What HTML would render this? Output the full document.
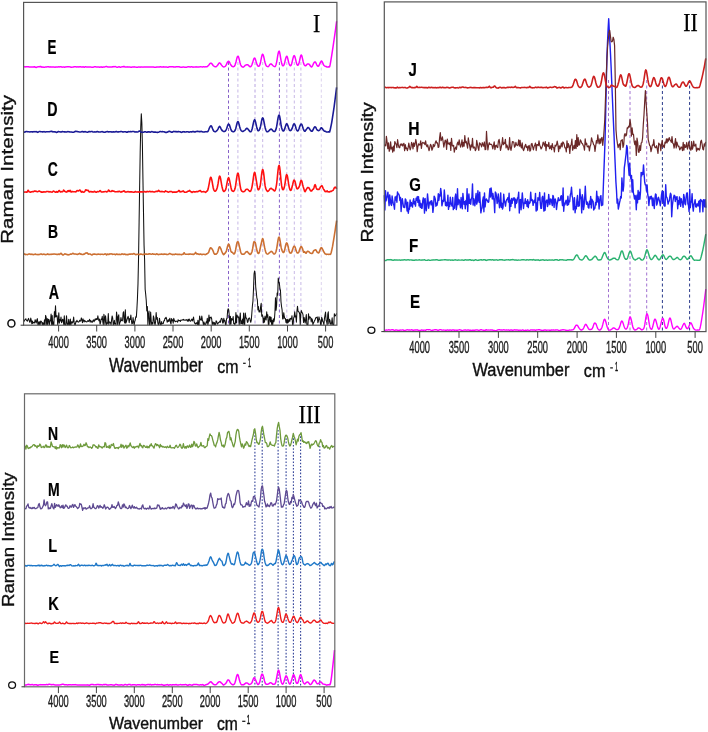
<!DOCTYPE html>
<html><head><meta charset="utf-8"><style>html,body{margin:0;padding:0;background:#fff;overflow:hidden;}svg{display:block;will-change:transform;}</style></head>
<body><svg width="708" height="732" viewBox="0 0 708 732">
<rect width="708" height="732" fill="#fff"/>
<line x1="228.5" y1="62" x2="228.5" y2="325.2" stroke="#8660c8" stroke-width="1" stroke-dasharray="3 2.5"/>
<line x1="237.9" y1="62" x2="237.9" y2="325.2" stroke="#c8b8e6" stroke-width="1" stroke-dasharray="3 2.5"/>
<line x1="255.0" y1="62" x2="255.0" y2="325.2" stroke="#b8a4e0" stroke-width="1" stroke-dasharray="3 2.5"/>
<line x1="262.7" y1="62" x2="262.7" y2="325.2" stroke="#c8b8e6" stroke-width="1" stroke-dasharray="3 2.5"/>
<line x1="279.4" y1="62" x2="279.4" y2="325.2" stroke="#8660c8" stroke-width="1" stroke-dasharray="3 2.5"/>
<line x1="286.8" y1="62" x2="286.8" y2="325.2" stroke="#c8b8e6" stroke-width="1" stroke-dasharray="3 2.5"/>
<line x1="294.3" y1="62" x2="294.3" y2="325.2" stroke="#c8b8e6" stroke-width="1" stroke-dasharray="3 2.5"/>
<line x1="300.9" y1="62" x2="300.9" y2="325.2" stroke="#c8b8e6" stroke-width="1" stroke-dasharray="3 2.5"/>
<line x1="321.3" y1="62" x2="321.3" y2="325.2" stroke="#ddd2ee" stroke-width="1" stroke-dasharray="3 2.5"/>
<polyline points="23.60,320.67 24.15,321.24 24.70,320.12 25.25,319.46 25.80,318.75 26.35,319.97 26.90,320.80 27.45,321.16 28.00,319.45 28.55,318.38 29.10,320.09 29.65,322.18 30.20,321.94 30.75,318.03 31.30,320.27 31.85,323.89 32.40,320.93 32.95,323.35 33.50,322.39 34.05,322.23 34.60,322.96 35.15,319.67 35.70,321.40 36.25,322.97 36.80,319.99 37.35,318.63 37.90,324.80 38.45,321.99 39.00,324.37 39.55,321.70 40.10,324.80 40.65,321.05 41.20,321.25 41.75,322.19 42.30,324.80 42.85,322.51 43.40,324.80 43.95,324.80 44.50,319.81 45.05,324.80 45.60,315.40 46.15,317.05 46.70,324.80 47.25,318.59 47.80,324.80 48.35,319.45 48.90,319.31 49.45,324.80 50.00,320.72 50.55,320.89 51.10,314.14 51.65,324.80 52.20,315.46 52.75,324.80 53.30,322.01 53.85,324.80 54.40,311.65 54.95,317.12 55.50,305.89 56.05,316.90 56.60,315.72 57.15,315.79 57.70,324.62 58.25,321.32 58.80,312.70 59.35,323.18 59.90,319.62 60.45,320.83 61.00,317.11 61.55,322.74 62.10,321.48 62.65,319.23 63.20,320.01 63.75,324.80 64.30,315.76 64.85,324.80 65.40,324.80 65.95,324.80 66.50,315.87 67.05,322.53 67.60,324.80 68.15,324.80 68.70,319.24 69.25,324.80 69.80,324.80 70.35,318.93 70.90,324.80 71.45,322.78 72.00,321.56 72.55,323.07 73.10,321.63 73.65,317.09 74.20,322.88 74.75,324.80 75.30,324.80 75.85,321.59 76.40,321.85 76.95,320.28 77.50,321.84 78.05,321.75 78.60,322.12 79.15,321.61 79.70,320.33 80.25,321.22 80.80,320.45 81.35,317.90 81.90,320.06 82.45,322.73 83.00,318.87 83.55,320.60 84.10,321.97 84.65,320.35 85.20,321.21 85.75,321.73 86.30,321.75 86.85,321.98 87.40,321.24 87.95,320.47 88.50,321.41 89.05,320.74 89.60,319.34 90.15,322.13 90.70,320.57 91.25,321.17 91.80,322.20 92.35,322.26 92.90,320.68 93.45,319.84 94.00,321.67 94.55,320.51 95.10,319.01 95.65,319.96 96.20,318.54 96.75,319.55 97.30,319.49 97.85,315.78 98.40,319.19 98.95,320.72 99.50,319.05 100.05,324.28 100.60,322.61 101.15,318.96 101.70,319.55 102.25,316.29 102.80,321.83 103.35,324.80 103.90,314.25 104.45,317.37 105.00,324.80 105.55,315.69 106.10,321.17 106.65,324.80 107.20,322.87 107.75,323.18 108.30,313.57 108.85,324.42 109.40,321.94 109.95,322.08 110.50,322.60 111.05,324.80 111.60,319.89 112.15,315.91 112.70,318.05 113.25,324.80 113.80,324.80 114.35,320.34 114.90,324.03 115.45,323.59 116.00,324.80 116.55,312.05 117.10,316.59 117.65,324.68 118.20,316.64 118.75,314.83 119.30,324.80 119.85,322.54 120.40,321.80 120.95,317.62 121.50,320.57 122.05,320.90 122.60,320.14 123.15,312.85 123.70,311.70 124.25,321.63 124.80,323.04 125.35,309.84 125.90,323.12 126.45,321.65 127.00,319.52 127.55,318.04 128.10,316.31 128.65,318.59 129.20,322.78 129.75,318.55 130.30,319.51 130.85,315.04 131.40,320.57 131.95,324.08 132.50,323.27 133.05,317.53 133.60,321.97 134.15,324.80 134.70,321.63 135.25,319.99 135.80,316.70 136.35,317.31 136.90,308.90 137.45,298.25 138.00,283.52 138.55,257.84 139.10,222.27 139.65,185.68 140.20,152.27 140.75,127.11 141.30,113.81 141.85,123.12 142.40,145.04 142.95,179.67 143.50,212.43 144.05,245.12 144.60,259.92 145.15,289.30 145.70,294.43 146.25,300.49 146.80,311.02 147.35,306.43 147.90,324.80 148.45,314.26 149.00,311.02 149.55,324.80 150.10,324.54 150.65,312.04 151.20,320.76 151.75,324.80 152.30,322.59 152.85,324.08 153.40,315.90 153.95,317.87 154.50,322.96 155.05,324.80 155.60,321.66 156.15,312.49 156.70,319.20 157.25,317.45 157.80,322.75 158.35,324.80 158.90,324.80 159.45,318.16 160.00,321.52 160.55,324.80 161.10,324.80 161.65,321.58 162.20,323.79 162.75,323.73 163.30,323.51 163.85,320.81 164.40,320.77 164.95,318.27 165.50,318.50 166.05,317.26 166.60,318.99 167.15,322.22 167.70,321.25 168.25,319.74 168.80,321.56 169.35,319.55 169.90,318.33 170.45,322.25 171.00,324.00 171.55,318.63 172.10,320.80 172.65,319.74 173.20,323.13 173.75,318.39 174.30,320.03 174.85,321.36 175.40,321.68 175.95,321.04 176.50,321.35 177.05,321.41 177.60,322.18 178.15,319.71 178.70,320.81 179.25,320.58 179.80,320.43 180.35,321.52 180.90,319.94 181.45,320.19 182.00,320.04 182.55,319.77 183.10,320.18 183.65,319.32 184.20,320.03 184.75,320.17 185.30,320.21 185.85,319.82 186.40,319.63 186.95,320.39 187.50,321.12 188.05,319.34 188.60,321.16 189.15,319.03 189.70,320.32 190.25,321.14 190.80,321.18 191.35,319.73 191.90,319.12 192.45,320.88 193.00,319.09 193.55,317.12 194.10,321.32 194.65,323.26 195.20,323.27 195.75,324.15 196.30,322.72 196.85,323.03 197.40,324.57 197.95,320.17 198.50,324.80 199.05,324.80 199.60,315.97 200.15,318.60 200.70,320.05 201.25,320.23 201.80,315.97 202.35,319.93 202.90,321.48 203.45,324.80 204.00,322.03 204.55,324.44 205.10,324.35 205.65,324.37 206.20,321.85 206.75,322.86 207.30,318.39 207.85,324.80 208.40,322.06 208.95,314.93 209.50,321.21 210.05,317.34 210.60,317.62 211.15,317.14 211.70,319.00 212.25,324.80 212.80,322.00 213.35,322.33 213.90,324.80 214.45,322.60 215.00,324.78 215.55,324.80 216.10,320.79 216.65,321.49 217.20,323.34 217.75,324.14 218.30,322.87 218.85,322.34 219.40,322.31 219.95,320.98 220.50,322.25 221.05,319.03 221.60,318.31 222.15,318.83 222.70,323.06 223.25,322.91 223.80,318.24 224.35,321.15 224.90,320.48 225.45,324.80 226.00,324.80 226.55,318.74 227.10,318.34 227.65,310.31 228.20,308.69 228.75,309.98 229.30,315.76 229.85,324.80 230.40,316.22 230.95,324.23 231.50,318.48 232.05,320.12 232.60,319.78 233.15,316.57 233.70,323.76 234.25,323.20 234.80,324.80 235.35,323.05 235.90,312.62 236.45,322.86 237.00,315.02 237.55,316.80 238.10,317.26 238.65,316.86 239.20,324.80 239.75,318.87 240.30,312.91 240.85,323.94 241.40,320.75 241.95,323.76 242.50,318.97 243.05,324.80 243.60,313.11 244.15,322.21 244.70,324.80 245.25,312.95 245.80,316.67 246.35,318.72 246.90,318.82 247.45,322.42 248.00,321.96 248.55,318.58 249.10,318.05 249.65,318.13 250.20,320.52 250.75,322.30 251.30,320.14 251.85,313.02 252.40,305.81 252.95,301.10 253.50,289.34 254.05,273.99 254.60,270.92 255.15,273.81 255.70,286.79 256.25,291.77 256.80,297.54 257.35,299.83 257.90,309.93 258.45,306.61 259.00,311.94 259.55,310.57 260.10,312.08 260.65,306.46 261.20,303.36 261.75,316.31 262.30,314.80 262.85,316.55 263.40,322.84 263.95,317.94 264.50,322.29 265.05,316.12 265.60,318.81 266.15,320.02 266.70,311.89 267.25,317.11 267.80,314.68 268.35,324.80 268.90,324.64 269.45,316.84 270.00,316.45 270.55,321.86 271.10,317.18 271.65,324.80 272.20,320.43 272.75,324.80 273.30,318.68 273.85,321.80 274.40,319.69 274.95,311.68 275.50,297.77 276.05,310.32 276.60,305.41 277.15,293.08 277.70,295.32 278.25,277.96 278.80,281.62 279.35,283.37 279.90,288.27 280.45,290.34 281.00,301.82 281.55,306.48 282.10,309.93 282.65,319.03 283.20,318.86 283.75,312.67 284.30,316.71 284.85,318.66 285.40,318.54 285.95,322.40 286.50,319.53 287.05,323.33 287.60,319.25 288.15,322.61 288.70,321.03 289.25,318.92 289.80,321.40 290.35,318.24 290.90,318.85 291.45,319.17 292.00,315.70 292.55,324.80 293.10,324.80 293.65,318.00 294.20,316.57 294.75,311.87 295.30,316.98 295.85,316.07 296.40,322.18 296.95,311.01 297.50,306.32 298.05,311.23 298.60,311.68 299.15,312.28 299.70,314.01 300.25,324.80 300.80,313.55 301.35,310.64 301.90,312.51 302.45,312.86 303.00,314.78 303.55,322.58 304.10,317.42 304.65,320.32 305.20,323.06 305.75,318.88 306.30,314.57 306.85,324.80 307.40,324.80 307.95,324.80 308.50,313.74 309.05,319.24 309.60,316.69 310.15,317.06 310.70,317.57 311.25,321.98 311.80,318.63 312.35,319.63 312.90,324.80 313.45,322.87 314.00,322.14 314.55,320.56 315.10,319.91 315.65,317.99 316.20,317.34 316.75,317.78 317.30,316.96 317.85,322.81 318.40,321.40 318.95,316.78 319.50,319.12 320.05,319.97 320.60,324.80 321.15,324.80 321.70,317.32 322.25,318.81 322.80,321.55 323.35,322.17 323.90,324.80 324.45,318.54 325.00,315.21 325.55,312.03 326.10,320.20 326.65,321.57 327.20,324.80 327.75,314.20 328.30,311.76 328.85,323.89 329.40,319.25 329.95,320.30 330.50,323.67 331.05,324.80 331.60,322.55 332.15,317.69 332.70,324.80 333.25,324.63 333.80,324.80 334.35,313.71 334.90,315.86 335.45,315.83 336.00,314.68 336.55,313.40" fill="none" stroke="#111111" stroke-width="1.05" stroke-linejoin="round"/>
<polyline points="23.60,254.44 24.10,254.23 24.60,253.92 25.10,254.16 25.60,254.58 26.10,254.51 26.60,254.45 27.10,254.48 27.60,254.61 28.10,254.37 28.60,254.09 29.10,253.91 29.60,254.04 30.10,254.27 30.60,254.36 31.10,254.14 31.60,254.40 32.10,254.27 32.60,254.37 33.10,254.58 33.60,254.59 34.10,254.48 34.60,254.29 35.10,254.17 35.60,254.17 36.10,254.55 36.60,254.54 37.10,254.45 37.60,254.43 38.10,254.71 38.60,254.56 39.10,254.44 39.60,254.50 40.10,254.21 40.60,254.07 41.10,253.98 41.60,254.10 42.10,254.48 42.60,254.57 43.10,254.35 43.60,254.09 44.10,254.12 44.60,254.43 45.10,254.57 45.60,254.59 46.10,254.53 46.60,254.41 47.10,254.16 47.60,253.93 48.10,254.23 48.60,254.36 49.10,254.33 49.60,254.50 50.10,254.46 50.60,254.28 51.10,254.25 51.60,254.37 52.10,254.16 52.60,254.23 53.10,254.20 53.60,254.03 54.10,253.97 54.60,253.99 55.10,254.15 55.60,254.26 56.10,254.32 56.60,254.37 57.10,254.22 57.60,254.46 58.10,254.43 58.60,254.02 59.10,254.24 59.60,254.36 60.10,253.92 60.60,253.56 61.10,253.28 61.60,253.87 62.10,254.48 62.60,254.87 63.10,254.97 63.60,254.71 64.10,254.33 64.60,253.92 65.10,253.80 65.60,254.18 66.10,254.22 66.60,254.37 67.10,254.54 67.60,254.79 68.10,254.85 68.60,254.74 69.10,254.65 69.60,254.48 70.10,254.34 70.60,254.09 71.10,254.13 71.60,254.11 72.10,253.85 72.60,253.47 73.10,253.24 73.60,253.71 74.10,254.09 74.60,253.99 75.10,253.99 75.60,254.06 76.10,254.14 76.60,254.30 77.10,254.36 77.60,254.42 78.10,254.13 78.60,254.03 79.10,253.69 79.60,253.35 80.10,253.77 80.60,254.12 81.10,254.06 81.60,254.25 82.10,254.44 82.60,254.44 83.10,254.47 83.60,254.13 84.10,254.17 84.60,254.04 85.10,253.51 85.60,253.14 86.10,253.10 86.60,253.00 87.10,252.82 87.60,253.27 88.10,254.00 88.60,254.14 89.10,253.99 89.60,254.04 90.10,254.05 90.60,254.21 91.10,254.58 91.60,254.85 92.10,254.97 92.60,254.50 93.10,254.16 93.60,254.28 94.10,254.04 94.60,253.98 95.10,254.20 95.60,254.30 96.10,254.37 96.60,254.50 97.10,254.44 97.60,254.28 98.10,254.11 98.60,254.14 99.10,254.30 99.60,254.27 100.10,254.40 100.60,254.37 101.10,254.25 101.60,254.28 102.10,254.30 102.60,254.32 103.10,254.46 103.60,254.50 104.10,254.32 104.60,254.11 105.10,254.04 105.60,253.90 106.10,254.36 106.60,254.92 107.10,254.52 107.60,254.02 108.10,254.19 108.60,254.45 109.10,254.39 109.60,254.00 110.10,253.90 110.60,253.99 111.10,253.99 111.60,253.88 112.10,254.09 112.60,254.39 113.10,254.23 113.60,254.20 114.10,254.23 114.60,254.17 115.10,254.49 115.60,254.75 116.10,254.15 116.60,253.97 117.10,254.25 117.60,254.37 118.10,254.41 118.60,254.53 119.10,254.38 119.60,254.37 120.10,254.49 120.60,254.59 121.10,254.42 121.60,254.01 122.10,253.87 122.60,254.07 123.10,254.33 123.60,254.40 124.10,254.09 124.60,254.04 125.10,254.39 125.60,254.41 126.10,254.69 126.60,254.55 127.10,254.42 127.60,254.70 128.10,254.73 128.60,254.34 129.10,254.14 129.60,254.19 130.10,254.11 130.60,254.17 131.10,253.98 131.60,254.08 132.10,254.16 132.60,254.10 133.10,253.97 133.60,253.65 134.10,253.60 134.60,253.98 135.10,254.38 135.60,254.63 136.10,254.58 136.60,254.39 137.10,254.33 137.60,254.31 138.10,254.27 138.60,254.34 139.10,254.63 139.60,254.53 140.10,254.10 140.60,254.06 141.10,254.20 141.60,254.14 142.10,254.36 142.60,254.58 143.10,254.64 143.60,254.29 144.10,254.13 144.60,254.00 145.10,254.03 145.60,254.17 146.10,254.13 146.60,254.04 147.10,254.23 147.60,254.32 148.10,254.21 148.60,254.01 149.10,253.83 149.60,253.78 150.10,254.00 150.60,254.07 151.10,254.24 151.60,254.18 152.10,254.03 152.60,253.84 153.10,254.02 153.60,254.24 154.10,254.17 154.60,254.19 155.10,254.35 155.60,254.44 156.10,254.24 156.60,253.77 157.10,253.91 157.60,254.16 158.10,254.54 158.60,254.63 159.10,254.43 159.60,254.27 160.10,254.22 160.60,254.35 161.10,254.12 161.60,253.99 162.10,254.24 162.60,254.25 163.10,254.36 163.60,254.24 164.10,254.01 164.60,253.94 165.10,254.23 165.60,254.20 166.10,254.16 166.60,254.43 167.10,254.48 167.60,254.54 168.10,254.44 168.60,254.12 169.10,253.81 169.60,253.51 170.10,253.61 170.60,253.87 171.10,254.20 171.60,254.35 172.10,254.49 172.60,254.60 173.10,254.22 173.60,254.39 174.10,254.59 174.60,254.39 175.10,254.03 175.60,253.97 176.10,254.19 176.60,254.23 177.10,254.35 177.60,254.48 178.10,254.36 178.60,254.41 179.10,254.52 179.60,254.35 180.10,254.52 180.60,254.49 181.10,254.59 181.60,254.62 182.10,254.47 182.60,254.32 183.10,254.32 183.60,253.49 184.10,252.73 184.60,253.48 185.10,254.11 185.60,254.20 186.10,254.31 186.60,254.30 187.10,254.32 187.60,254.21 188.10,254.30 188.60,254.34 189.10,254.09 189.60,254.14 190.10,254.07 190.60,253.95 191.10,254.12 191.60,254.26 192.10,254.17 192.60,254.18 193.10,254.49 193.60,254.37 194.10,254.05 194.60,253.89 195.10,253.14 195.60,252.43 196.10,253.14 196.60,253.94 197.10,254.06 197.60,253.82 198.10,253.97 198.60,254.29 199.10,254.34 199.60,254.38 200.10,254.11 200.60,254.08 201.10,254.31 201.60,254.56 202.10,254.64 202.60,254.33 203.10,254.29 203.60,254.30 204.10,254.25 204.60,254.43 205.10,254.55 205.60,254.60 206.10,254.37 206.60,253.79 207.10,253.79 207.60,253.56 208.10,253.03 208.60,252.48 209.10,250.95 209.60,249.43 210.10,248.36 210.60,247.75 211.10,248.01 211.60,248.41 212.10,249.06 212.60,249.97 213.10,250.91 213.60,252.35 214.10,253.57 214.60,254.09 215.10,254.11 215.60,254.16 216.10,254.17 216.60,253.73 217.10,253.19 217.60,252.35 218.10,250.80 218.60,248.76 219.10,247.34 219.60,246.73 220.10,247.34 220.60,248.26 221.10,249.42 221.60,250.84 222.10,252.06 222.60,253.11 223.10,254.06 223.60,254.66 224.10,254.37 224.60,253.65 225.10,253.16 225.60,252.55 226.10,251.70 226.60,250.21 227.10,248.28 227.60,246.21 228.10,244.73 228.60,244.09 229.10,244.58 229.60,246.30 230.10,248.30 230.60,250.31 231.10,251.60 231.60,252.25 232.10,252.22 232.60,252.48 233.10,253.19 233.60,253.86 234.10,253.97 234.60,253.41 235.10,252.03 235.60,249.89 236.10,247.12 236.60,244.52 237.10,242.46 237.60,241.71 238.10,241.81 238.60,243.01 239.10,245.36 239.60,247.43 240.10,249.52 240.60,251.67 241.10,253.04 241.60,253.91 242.10,254.14 242.60,254.21 243.10,254.22 243.60,254.27 244.10,254.05 244.60,253.57 245.10,253.02 245.60,252.41 246.10,251.89 246.60,251.66 247.10,251.53 247.60,251.87 248.10,252.69 248.60,253.10 249.10,253.65 249.60,254.19 250.10,254.40 250.60,254.22 251.10,253.65 251.60,252.69 252.10,251.28 252.60,248.93 253.10,245.90 253.60,242.80 254.10,241.64 254.60,241.89 255.10,242.36 255.60,243.91 256.10,246.58 256.60,249.04 257.10,251.08 257.60,252.51 258.10,253.36 258.60,253.55 259.10,252.87 259.60,251.28 260.10,248.82 260.60,246.30 261.10,244.26 261.60,242.10 262.10,239.98 262.60,238.59 263.10,239.32 263.60,241.93 264.10,244.80 264.60,247.45 265.10,249.65 265.60,251.49 266.10,252.93 266.60,253.60 267.10,253.92 267.60,254.14 268.10,253.85 268.60,253.50 269.10,253.01 269.60,252.55 270.10,252.21 270.60,251.77 271.10,251.39 271.60,251.46 272.10,251.84 272.60,252.31 273.10,253.13 273.60,253.82 274.10,253.99 274.60,253.91 275.10,253.49 275.60,252.56 276.10,251.17 276.60,249.00 277.10,246.18 277.60,242.88 278.10,239.60 278.60,237.49 279.10,236.98 279.60,238.30 280.10,240.86 280.60,244.13 281.10,247.16 281.60,249.31 282.10,250.59 282.60,251.54 283.10,252.46 283.60,252.54 284.10,251.81 284.60,250.32 285.10,247.90 285.60,245.41 286.10,243.77 286.60,242.91 287.10,243.33 287.60,244.61 288.10,246.47 288.60,248.89 289.10,251.04 289.60,252.37 290.10,252.93 290.60,253.12 291.10,252.96 291.60,252.38 292.10,251.15 292.60,249.44 293.10,248.01 293.60,246.75 294.10,246.17 294.60,246.29 295.10,247.13 295.60,248.71 296.10,250.70 296.60,251.79 297.10,252.73 297.60,253.05 298.10,252.89 298.60,252.47 299.10,251.32 299.60,249.78 300.10,248.39 300.60,247.26 301.10,246.55 301.60,246.82 302.10,247.84 302.60,248.94 303.10,250.66 303.60,252.29 304.10,252.30 304.60,251.67 305.10,252.21 305.60,253.07 306.10,253.19 306.60,252.42 307.10,251.56 307.60,251.25 308.10,251.38 308.60,251.60 309.10,251.87 309.60,252.46 310.10,252.95 310.60,253.19 311.10,253.28 311.60,253.46 312.10,253.46 312.60,253.07 313.10,251.89 313.60,250.86 314.10,250.41 314.60,250.24 315.10,249.91 315.60,249.82 316.10,250.19 316.60,251.17 317.10,252.05 317.60,252.53 318.10,252.78 318.60,252.90 319.10,252.31 319.60,251.15 320.10,249.68 320.60,248.41 321.10,247.70 321.60,247.77 322.10,248.36 322.60,249.35 323.10,250.36 323.60,251.60 324.10,252.25 324.60,253.08 325.10,253.92 325.60,253.99 326.10,254.16 326.60,254.47 327.10,254.30 327.60,254.23 328.10,254.30 328.60,254.44 329.10,254.34 329.60,254.24 330.10,254.35 330.60,254.29 331.10,252.82 331.60,250.86 332.10,248.61 332.60,246.21 333.10,243.04 333.60,240.07 334.10,237.06 334.60,233.98 335.10,230.82 335.60,227.22 336.10,224.02 336.60,220.54" fill="none" stroke="#cc7033" stroke-width="1.6" stroke-linejoin="round"/>
<polyline points="23.60,191.86 24.10,192.13 24.60,192.00 25.10,191.95 25.60,191.99 26.10,192.10 26.60,192.28 27.10,191.98 27.60,191.14 28.10,190.23 28.60,190.91 29.10,191.73 29.60,191.96 30.10,192.08 30.60,192.13 31.10,191.95 31.60,191.76 32.10,191.72 32.60,191.63 33.10,191.73 33.60,191.64 34.10,191.31 34.60,191.07 35.10,191.01 35.60,191.30 36.10,191.41 36.60,191.35 37.10,191.68 37.60,191.76 38.10,191.58 38.60,191.38 39.10,190.97 39.60,191.06 40.10,191.46 40.60,191.67 41.10,191.91 41.60,192.25 42.10,191.96 42.60,192.09 43.10,192.21 43.60,191.85 44.10,191.69 44.60,191.93 45.10,192.06 45.60,191.90 46.10,191.67 46.60,191.43 47.10,191.47 47.60,191.57 48.10,191.56 48.60,191.82 49.10,191.94 49.60,191.71 50.10,191.66 50.60,191.86 51.10,191.98 51.60,192.07 52.10,192.23 52.60,191.72 53.10,191.18 53.60,191.06 54.10,191.40 54.60,191.82 55.10,191.93 55.60,192.25 56.10,192.11 56.60,191.66 57.10,191.71 57.60,192.17 58.10,191.91 58.60,191.08 59.10,190.50 59.60,190.87 60.10,191.71 60.60,191.90 61.10,191.86 61.60,191.60 62.10,191.71 62.60,191.82 63.10,191.14 63.60,190.06 64.10,190.51 64.60,191.24 65.10,191.43 65.60,191.68 66.10,191.98 66.60,192.08 67.10,191.74 67.60,190.87 68.10,190.60 68.60,191.20 69.10,191.51 69.60,190.80 70.10,190.27 70.60,191.25 71.10,192.07 71.60,191.84 72.10,191.48 72.60,191.50 73.10,191.70 73.60,191.81 74.10,191.78 74.60,191.75 75.10,191.72 75.60,191.87 76.10,191.69 76.60,191.06 77.10,190.50 77.60,190.74 78.10,190.90 78.60,190.90 79.10,190.58 79.60,190.09 80.10,190.09 80.60,191.02 81.10,191.78 81.60,192.10 82.10,191.67 82.60,191.62 83.10,192.07 83.60,192.20 84.10,192.06 84.60,191.68 85.10,190.84 85.60,189.84 86.10,189.85 86.60,190.34 87.10,190.48 87.60,190.30 88.10,190.35 88.60,190.97 89.10,191.79 89.60,191.99 90.10,191.85 90.60,191.50 91.10,191.55 91.60,191.83 92.10,191.88 92.60,191.82 93.10,191.99 93.60,191.99 94.10,191.56 94.60,191.26 95.10,191.67 95.60,192.05 96.10,192.23 96.60,192.15 97.10,191.75 97.60,191.58 98.10,191.68 98.60,191.69 99.10,191.53 99.60,190.96 100.10,190.59 100.60,191.09 101.10,191.70 101.60,192.00 102.10,192.06 102.60,192.05 103.10,191.88 103.60,191.70 104.10,191.81 104.60,191.78 105.10,191.57 105.60,191.44 106.10,191.56 106.60,191.99 107.10,191.83 107.60,191.62 108.10,190.82 108.60,190.01 109.10,190.48 109.60,191.23 110.10,191.48 110.60,191.45 111.10,191.56 111.60,191.10 112.10,190.58 112.60,190.95 113.10,191.12 113.60,191.15 114.10,191.22 114.60,191.62 115.10,191.84 115.60,191.74 116.10,191.68 116.60,191.81 117.10,191.76 117.60,191.62 118.10,191.50 118.60,191.59 119.10,191.25 119.60,191.20 120.10,191.69 120.60,192.07 121.10,192.10 121.60,191.79 122.10,191.55 122.60,191.58 123.10,191.38 123.60,190.92 124.10,190.83 124.60,191.31 125.10,191.89 125.60,192.10 126.10,191.96 126.60,192.05 127.10,191.82 127.60,191.65 128.10,191.57 128.60,191.78 129.10,191.94 129.60,191.86 130.10,191.91 130.60,191.89 131.10,191.83 131.60,191.85 132.10,191.94 132.60,192.04 133.10,192.13 133.60,192.31 134.10,192.15 134.60,191.97 135.10,191.57 135.60,191.62 136.10,192.07 136.60,191.97 137.10,191.93 137.60,191.99 138.10,191.85 138.60,192.03 139.10,192.25 139.60,192.05 140.10,191.88 140.60,191.91 141.10,191.99 141.60,191.73 142.10,191.71 142.60,192.03 143.10,192.06 143.60,191.93 144.10,191.76 144.60,191.47 145.10,191.70 145.60,192.06 146.10,192.05 146.60,191.68 147.10,191.34 147.60,191.60 148.10,191.72 148.60,191.66 149.10,191.54 149.60,191.36 150.10,191.62 150.60,191.65 151.10,191.65 151.60,191.74 152.10,191.82 152.60,191.54 153.10,191.67 153.60,191.89 154.10,192.06 154.60,191.98 155.10,191.66 155.60,191.46 156.10,191.41 156.60,191.39 157.10,191.50 157.60,191.45 158.10,190.78 158.60,190.32 159.10,190.90 159.60,191.35 160.10,191.42 160.60,191.64 161.10,191.75 161.60,191.49 162.10,191.35 162.60,191.66 163.10,191.82 163.60,191.74 164.10,191.72 164.60,191.93 165.10,191.35 165.60,190.88 166.10,191.27 166.60,191.41 167.10,191.59 167.60,191.85 168.10,191.96 168.60,192.15 169.10,191.90 169.60,191.55 170.10,191.64 170.60,191.47 171.10,191.55 171.60,191.60 172.10,191.92 172.60,192.32 173.10,192.13 173.60,191.96 174.10,192.16 174.60,192.17 175.10,191.94 175.60,192.09 176.10,192.28 176.60,192.04 177.10,191.74 177.60,191.70 178.10,191.31 178.60,190.61 179.10,190.46 179.60,191.37 180.10,192.01 180.60,191.84 181.10,191.59 181.60,191.60 182.10,191.57 182.60,191.27 183.10,190.93 183.60,191.38 184.10,191.93 184.60,192.26 185.10,192.32 185.60,192.19 186.10,192.19 186.60,192.05 187.10,191.74 187.60,191.47 188.10,191.08 188.60,191.21 189.10,191.00 189.60,190.44 190.10,190.97 190.60,191.64 191.10,191.72 191.60,192.16 192.10,192.45 192.60,191.98 193.10,191.74 193.60,191.61 194.10,191.90 194.60,191.96 195.10,191.69 195.60,191.86 196.10,191.70 196.60,191.47 197.10,191.64 197.60,191.77 198.10,191.60 198.60,191.21 199.10,190.95 199.60,190.73 200.10,190.53 200.60,190.81 201.10,191.62 201.60,191.93 202.10,191.77 202.60,191.79 203.10,191.75 203.60,191.64 204.10,191.60 204.60,191.85 205.10,192.12 205.60,192.39 206.10,191.97 206.60,191.33 207.10,191.12 207.60,190.51 208.10,189.06 208.60,186.69 209.10,184.07 209.60,181.38 210.10,178.77 210.60,177.34 211.10,177.53 211.60,179.14 212.10,181.44 212.60,184.39 213.10,187.20 213.60,189.26 214.10,190.42 214.60,190.96 215.10,191.24 215.60,191.02 216.10,190.48 216.60,189.46 217.10,187.99 217.60,186.03 218.10,183.39 218.60,180.04 219.10,177.35 219.60,176.19 220.10,176.66 220.60,178.73 221.10,181.66 221.60,184.61 222.10,186.97 222.60,189.06 223.10,190.64 223.60,191.45 224.10,191.38 224.60,190.92 225.10,190.56 225.60,189.68 226.10,187.72 226.60,185.30 227.10,182.72 227.60,180.17 228.10,178.27 228.60,177.70 229.10,178.61 229.60,180.70 230.10,183.11 230.60,185.69 231.10,188.00 231.60,190.01 232.10,190.76 232.60,191.09 233.10,191.41 233.60,191.23 234.10,190.67 234.60,189.82 235.10,188.35 235.60,185.72 236.10,182.11 236.60,178.39 237.10,175.36 237.60,173.46 238.10,173.23 238.60,174.99 239.10,178.48 239.60,182.26 240.10,185.52 240.60,188.25 241.10,189.99 241.60,190.84 242.10,191.36 242.60,191.70 243.10,191.70 243.60,191.75 244.10,191.44 244.60,191.24 245.10,190.68 245.60,189.81 246.10,189.41 246.60,189.27 247.10,189.18 247.60,189.30 248.10,189.79 248.60,190.29 249.10,190.71 249.60,191.28 250.10,191.47 250.60,191.09 251.10,190.05 251.60,188.54 252.10,186.37 252.60,183.50 253.10,179.84 253.60,176.09 254.10,173.42 254.60,172.29 255.10,173.33 255.60,176.14 256.10,179.22 256.60,182.23 257.10,185.37 257.60,188.02 258.10,189.71 258.60,189.82 259.10,189.06 259.60,188.06 260.10,186.33 260.60,183.12 261.10,178.81 261.60,174.65 262.10,171.11 262.60,169.46 263.10,170.26 263.60,172.82 264.10,176.97 264.60,181.84 265.10,185.69 265.60,188.05 266.10,189.41 266.60,190.21 267.10,190.94 267.60,191.39 268.10,191.26 268.60,190.77 269.10,190.16 269.60,189.36 270.10,188.81 270.60,188.53 271.10,188.35 271.60,188.50 272.10,189.10 272.60,189.51 273.10,189.54 273.60,190.19 274.10,190.73 274.60,190.94 275.10,190.54 275.60,189.32 276.10,187.12 276.60,184.07 277.10,179.78 277.60,174.61 278.10,169.75 278.60,166.29 279.10,165.28 279.60,166.91 280.10,170.77 280.60,176.19 281.10,181.35 281.60,185.38 282.10,188.11 282.60,189.59 283.10,189.77 283.60,189.31 284.10,188.07 284.60,185.94 285.10,183.03 285.60,179.44 286.10,176.09 286.60,174.63 287.10,175.28 287.60,177.27 288.10,180.27 288.60,183.72 289.10,186.62 289.60,188.67 290.10,189.87 290.60,190.42 291.10,190.14 291.60,188.67 292.10,186.80 292.60,184.90 293.10,182.69 293.60,180.83 294.10,180.06 294.60,180.57 295.10,181.77 295.60,183.91 296.10,186.09 296.60,188.01 297.10,188.89 297.60,188.75 298.10,188.41 298.60,187.82 299.10,186.95 299.60,185.56 300.10,183.53 300.60,181.34 301.10,180.39 301.60,180.76 302.10,182.13 302.60,184.41 303.10,186.43 303.60,187.97 304.10,189.61 304.60,191.17 305.10,191.66 305.60,190.83 306.10,189.69 306.60,188.94 307.10,188.15 307.60,187.54 308.10,187.51 308.60,187.66 309.10,188.14 309.60,189.01 310.10,189.95 310.60,190.70 311.10,190.98 311.60,190.93 312.10,190.24 312.60,189.51 313.10,189.28 313.60,188.64 314.10,187.19 314.60,185.51 315.10,184.64 315.60,185.70 316.10,187.56 316.60,188.76 317.10,189.37 317.60,189.56 318.10,189.21 318.60,189.53 319.10,189.45 319.60,188.62 320.10,187.58 320.60,186.78 321.10,186.33 321.60,185.70 322.10,185.70 322.60,186.94 323.10,188.34 323.60,189.23 324.10,189.81 324.60,190.79 325.10,191.45 325.60,191.61 326.10,191.64 326.60,191.11 327.10,190.88 327.60,191.46 328.10,191.97 328.60,191.82 329.10,191.80 329.60,191.97 330.10,191.54 330.60,191.29 331.10,191.42 331.60,191.23 332.10,190.72 332.60,190.53 333.10,190.27 333.60,189.32 334.10,188.22 334.60,187.50 335.10,187.26 335.60,187.16 336.10,187.87 336.60,188.94" fill="none" stroke="#ff1010" stroke-width="1.6" stroke-linejoin="round"/>
<polyline points="23.60,131.96 24.10,132.03 24.60,132.14 25.10,132.02 25.60,131.68 26.10,131.50 26.60,131.56 27.10,131.63 27.60,131.69 28.10,131.73 28.60,131.74 29.10,131.83 29.60,131.93 30.10,131.93 30.60,131.83 31.10,131.76 31.60,131.78 32.10,131.86 32.60,131.90 33.10,131.85 33.60,131.72 34.10,131.65 34.60,131.68 35.10,131.75 35.60,131.74 36.10,131.61 36.60,131.68 37.10,132.07 37.60,132.34 38.10,132.20 38.60,131.86 39.10,131.59 39.60,131.48 40.10,131.50 40.60,131.60 41.10,131.68 41.60,131.73 42.10,131.81 42.60,131.92 43.10,131.87 43.60,131.68 44.10,131.63 44.60,131.85 45.10,132.02 45.60,131.93 46.10,131.74 46.60,131.67 47.10,131.74 47.60,131.79 48.10,131.71 48.60,131.71 49.10,131.81 49.60,131.73 50.10,131.56 50.60,131.42 51.10,131.27 51.60,131.25 52.10,131.49 52.60,131.77 53.10,131.87 53.60,131.82 54.10,131.81 54.60,131.83 55.10,131.82 55.60,131.92 56.10,132.19 56.60,132.40 57.10,132.28 57.60,131.89 58.10,131.58 58.60,131.53 59.10,131.68 59.60,131.82 60.10,131.86 60.60,131.96 61.10,132.04 61.60,131.87 62.10,131.60 62.60,131.54 63.10,131.68 63.60,131.82 64.10,131.83 64.60,131.79 65.10,131.85 65.60,131.96 66.10,132.00 66.60,131.94 67.10,131.78 67.60,131.67 68.10,131.66 68.60,131.69 69.10,131.79 69.60,131.91 70.10,131.97 70.60,131.95 71.10,131.94 71.60,132.00 72.10,132.10 72.60,132.18 73.10,132.25 73.60,132.21 74.10,131.98 74.60,131.68 75.10,131.44 75.60,131.26 76.10,131.23 76.60,131.40 77.10,131.54 77.60,131.60 78.10,131.69 78.60,131.80 79.10,131.91 79.60,132.02 80.10,132.03 80.60,131.92 81.10,131.84 81.60,131.73 82.10,131.54 82.60,131.54 83.10,131.73 83.60,131.88 84.10,131.87 84.60,131.75 85.10,131.64 85.60,131.69 86.10,131.89 86.60,132.06 87.10,132.16 87.60,132.19 88.10,132.06 88.60,131.81 89.10,131.60 89.60,131.58 90.10,131.69 90.60,131.71 91.10,131.58 91.60,131.48 92.10,131.56 92.60,131.78 93.10,131.98 93.60,132.02 94.10,131.94 94.60,131.90 95.10,131.95 95.60,131.98 96.10,131.90 96.60,131.74 97.10,131.60 97.60,131.60 98.10,131.74 98.60,131.89 99.10,131.98 99.60,132.01 100.10,131.99 100.60,131.91 101.10,131.81 101.60,131.68 102.10,131.59 102.60,131.67 103.10,131.90 103.60,132.13 104.10,132.21 104.60,132.21 105.10,132.15 105.60,131.97 106.10,131.83 106.60,131.71 107.10,131.59 107.60,131.60 108.10,131.75 108.60,131.86 109.10,131.84 109.60,131.80 110.10,131.77 110.60,131.74 111.10,131.86 111.60,132.07 112.10,132.08 112.60,131.92 113.10,131.72 113.60,131.75 114.10,131.95 114.60,132.03 115.10,131.89 115.60,131.66 116.10,131.49 116.60,131.53 117.10,131.71 117.60,131.92 118.10,132.01 118.60,131.88 119.10,131.74 119.60,131.77 120.10,131.75 120.60,131.55 121.10,131.44 121.60,131.60 122.10,131.78 122.60,131.87 123.10,131.95 123.60,131.92 124.10,131.82 124.60,131.75 125.10,131.70 125.60,131.69 126.10,131.91 126.60,132.25 127.10,132.30 127.60,132.00 128.10,131.70 128.60,131.65 129.10,131.72 129.60,131.71 130.10,131.65 130.60,131.66 131.10,131.74 131.60,131.72 132.10,131.58 132.60,131.52 133.10,131.51 133.60,131.45 134.10,131.58 134.60,131.90 135.10,132.04 135.60,131.90 136.10,131.85 136.60,131.99 137.10,132.04 137.60,131.91 138.10,131.76 138.60,131.48 139.10,131.10 139.60,131.02 140.10,131.31 140.60,131.67 141.10,131.96 141.60,132.15 142.10,132.19 142.60,132.23 143.10,132.29 143.60,132.19 144.10,131.94 144.60,131.75 145.10,131.70 145.60,131.80 146.10,132.06 146.60,132.30 147.10,132.29 147.60,132.04 148.10,131.80 148.60,131.74 149.10,131.85 149.60,132.02 150.10,132.12 150.60,132.10 151.10,131.88 151.60,131.61 152.10,131.62 152.60,131.86 153.10,132.04 153.60,132.09 154.10,132.09 154.60,132.09 155.10,132.12 155.60,132.16 156.10,132.20 156.60,132.26 157.10,132.36 157.60,132.40 158.10,132.31 158.60,132.13 159.10,131.91 159.60,131.64 160.10,131.46 160.60,131.48 161.10,131.61 161.60,131.68 162.10,131.65 162.60,131.59 163.10,131.68 163.60,131.80 164.10,131.82 164.60,131.98 165.10,132.26 165.60,132.36 166.10,132.36 166.60,132.40 167.10,132.33 167.60,132.08 168.10,131.74 168.60,131.43 169.10,131.30 169.60,131.39 170.10,131.53 170.60,131.68 171.10,131.92 171.60,132.21 172.10,132.30 172.60,132.04 173.10,131.63 173.60,131.40 174.10,131.45 174.60,131.60 175.10,131.61 175.60,131.48 176.10,131.49 176.60,131.71 177.10,131.86 177.60,131.79 178.10,131.63 178.60,131.59 179.10,131.65 179.60,131.69 180.10,131.79 180.60,132.02 181.10,132.26 181.60,132.35 182.10,132.17 182.60,131.80 183.10,131.65 183.60,131.79 184.10,131.88 184.60,131.89 185.10,131.94 185.60,131.95 186.10,131.88 186.60,131.79 187.10,131.77 187.60,131.76 188.10,131.82 188.60,132.02 189.10,132.16 189.60,132.03 190.10,131.82 190.60,131.78 191.10,131.86 191.60,131.90 192.10,131.79 192.60,131.62 193.10,131.50 193.60,131.52 194.10,131.78 194.60,132.06 195.10,132.05 195.60,131.80 196.10,131.59 196.60,131.47 197.10,131.35 197.60,131.29 198.10,131.39 198.60,131.57 199.10,131.64 199.60,131.67 200.10,131.64 200.60,131.47 201.10,131.35 201.60,131.45 202.10,131.67 202.60,131.86 203.10,131.97 203.60,131.98 204.10,131.95 204.60,131.90 205.10,131.82 205.60,131.70 206.10,131.67 206.60,131.73 207.10,131.76 207.60,131.67 208.10,131.13 208.60,130.02 209.10,128.71 209.60,127.54 210.10,126.62 210.60,125.97 211.10,125.82 211.60,126.36 212.10,127.47 212.60,128.81 213.10,130.01 213.60,130.84 214.10,131.32 214.60,131.61 215.10,131.80 215.60,131.71 216.10,131.30 216.60,130.80 217.10,130.33 217.60,129.72 218.10,128.79 218.60,127.69 219.10,126.78 219.60,126.42 220.10,126.80 220.60,127.72 221.10,128.81 221.60,129.81 222.10,130.49 222.60,130.87 223.10,131.20 223.60,131.41 224.10,131.42 224.60,131.39 225.10,131.22 225.60,130.69 226.10,129.84 226.60,128.71 227.10,127.22 227.60,125.62 228.10,124.50 228.60,124.13 229.10,124.40 229.60,125.39 230.10,126.94 230.60,128.55 231.10,129.91 231.60,130.84 232.10,131.30 232.60,131.54 233.10,131.70 233.60,131.66 234.10,131.44 234.60,131.03 235.10,130.27 235.60,128.97 236.10,127.09 236.60,124.94 237.10,123.02 237.60,121.75 238.10,121.54 238.60,122.59 239.10,124.46 239.60,126.49 240.10,128.25 240.60,129.57 241.10,130.45 241.60,130.95 242.10,131.29 242.60,131.50 243.10,131.42 243.60,131.07 244.10,130.66 244.60,130.37 245.10,130.06 245.60,129.51 246.10,128.83 246.60,128.36 247.10,128.35 247.60,128.74 248.10,129.28 248.60,129.85 249.10,130.53 249.60,131.23 250.10,131.68 250.60,131.76 251.10,131.45 251.60,130.55 252.10,128.96 252.60,126.81 253.10,124.43 253.60,122.13 254.10,120.37 254.60,119.72 255.10,120.39 255.60,122.13 256.10,124.40 256.60,126.66 257.10,128.61 257.60,130.08 258.10,130.81 258.60,130.79 259.10,130.28 259.60,129.40 260.10,128.11 260.60,126.15 261.10,123.57 261.60,120.86 262.10,118.74 262.60,117.86 263.10,118.34 263.60,120.05 264.10,122.52 264.60,125.13 265.10,127.42 265.60,129.23 266.10,130.54 266.60,131.39 267.10,131.81 267.60,131.81 268.10,131.50 268.60,131.07 269.10,130.65 269.60,130.12 270.10,129.55 270.60,129.16 271.10,129.04 271.60,129.18 272.10,129.72 272.60,130.47 273.10,131.00 273.60,131.29 274.10,131.50 274.60,131.53 275.10,131.14 275.60,130.27 276.10,128.88 276.60,126.76 277.10,123.92 277.60,120.69 278.10,117.65 278.60,115.58 279.10,115.07 279.60,116.18 280.10,118.66 280.60,121.97 281.10,125.25 281.60,127.73 282.10,129.29 282.60,130.30 283.10,130.91 283.60,130.99 284.10,130.37 284.60,129.14 285.10,127.60 285.60,125.97 286.10,124.52 286.60,123.80 287.10,124.06 287.60,125.03 288.10,126.39 288.60,127.92 289.10,129.35 289.60,130.32 290.10,130.66 290.60,130.58 291.10,130.19 291.60,129.50 292.10,128.44 292.60,126.98 293.10,125.40 293.60,124.22 294.10,123.80 294.60,124.18 295.10,125.26 295.60,126.83 296.10,128.51 296.60,129.87 297.10,130.67 297.60,130.97 298.10,130.72 298.60,129.85 299.10,128.48 299.60,126.93 300.10,125.60 300.60,124.58 301.10,124.01 301.60,124.17 302.10,125.13 302.60,126.66 303.10,128.31 303.60,129.71 304.10,130.74 304.60,131.26 305.10,131.15 305.60,130.56 306.10,129.82 306.60,129.11 307.10,128.40 307.60,127.76 308.10,127.44 308.60,127.64 309.10,128.30 309.60,129.09 310.10,129.77 310.60,130.40 311.10,130.97 311.60,131.28 312.10,131.18 312.60,130.62 313.10,129.72 313.60,128.67 314.10,127.70 314.60,127.03 315.10,126.82 315.60,127.16 316.10,128.02 316.60,129.10 317.10,129.91 317.60,130.30 318.10,130.51 318.60,130.61 319.10,130.49 319.60,130.10 320.10,129.36 320.60,128.44 321.10,127.87 321.60,127.91 322.10,128.32 322.60,128.96 323.10,129.77 323.60,130.43 324.10,130.90 324.60,131.21 325.10,131.30 325.60,131.40 326.10,131.69 326.60,131.93 327.10,132.03 327.60,132.06 328.10,131.94 328.60,131.77 329.10,131.87 329.60,131.91 330.10,130.30 330.60,128.04 331.10,125.62 331.60,123.04 332.10,120.11 332.60,116.93 333.10,113.70 333.60,110.47 334.10,107.00 334.60,103.21 335.10,99.26 335.60,95.26 336.10,91.32 336.60,87.39" fill="none" stroke="#1a1a96" stroke-width="1.6" stroke-linejoin="round"/>
<polyline points="23.60,66.66 24.10,66.71 24.60,66.84 25.10,66.92 25.60,66.85 26.10,66.81 26.60,66.83 27.10,66.79 27.60,66.76 28.10,66.78 28.60,66.82 29.10,66.89 29.60,66.98 30.10,67.01 30.60,66.95 31.10,66.88 31.60,66.91 32.10,67.02 32.60,67.08 33.10,67.04 33.60,66.93 34.10,66.80 34.60,66.74 35.10,66.98 35.60,67.38 36.10,67.47 36.60,67.26 37.10,67.03 37.60,66.84 38.10,66.68 38.60,66.67 39.10,66.79 39.60,66.74 40.10,66.56 40.60,66.56 41.10,66.77 41.60,67.04 42.10,67.17 42.60,67.11 43.10,67.09 43.60,67.17 44.10,67.18 44.60,67.14 45.10,67.10 45.60,67.02 46.10,66.94 46.60,66.92 47.10,66.87 47.60,66.76 48.10,66.71 48.60,66.80 49.10,66.89 49.60,66.89 50.10,66.87 50.60,66.88 51.10,66.89 51.60,66.90 52.10,66.99 52.60,67.10 53.10,67.07 53.60,66.99 54.10,67.02 54.60,67.14 55.10,67.16 55.60,67.06 56.10,66.96 56.60,66.89 57.10,66.94 57.60,66.99 58.10,66.89 58.60,66.80 59.10,66.87 59.60,66.91 60.10,66.82 60.60,66.74 61.10,66.81 61.60,67.01 62.10,67.15 62.60,67.10 63.10,66.96 63.60,66.89 64.10,67.02 64.60,67.20 65.10,67.13 65.60,66.91 66.10,66.82 66.60,66.88 67.10,66.87 67.60,66.76 68.10,66.68 68.60,66.67 69.10,66.76 69.60,66.85 70.10,66.91 70.60,67.02 71.10,67.17 71.60,67.18 72.10,67.14 72.60,67.12 73.10,67.04 73.60,66.92 74.10,66.81 74.60,66.73 75.10,66.64 75.60,66.64 76.10,66.82 76.60,67.04 77.10,67.02 77.60,66.86 78.10,66.86 78.60,66.95 79.10,66.93 79.60,66.85 80.10,66.79 80.60,66.83 81.10,66.93 81.60,66.98 82.10,66.98 82.60,66.92 83.10,66.81 83.60,66.88 84.10,67.18 84.60,67.23 85.10,66.89 85.60,66.70 86.10,66.89 86.60,67.07 87.10,67.08 87.60,67.08 88.10,67.08 88.60,66.99 89.10,66.92 89.60,66.90 90.10,66.94 90.60,67.02 91.10,67.11 91.60,67.16 92.10,67.16 92.60,67.18 93.10,67.18 93.60,67.04 94.10,66.84 94.60,66.79 95.10,66.83 95.60,66.87 96.10,66.92 96.60,66.91 97.10,66.88 97.60,66.92 98.10,66.97 98.60,67.00 99.10,67.09 99.60,67.21 100.10,67.16 100.60,66.97 101.10,66.87 101.60,66.99 102.10,67.17 102.60,67.21 103.10,67.05 103.60,66.89 104.10,66.91 104.60,66.93 105.10,66.82 105.60,66.64 106.10,66.50 106.60,66.50 107.10,66.69 107.60,66.90 108.10,66.97 108.60,66.93 109.10,66.91 109.60,66.94 110.10,67.03 110.60,67.08 111.10,67.05 111.60,67.06 112.10,67.00 112.60,66.78 113.10,66.62 113.60,66.66 114.10,66.75 114.60,66.66 115.10,66.50 115.60,66.64 116.10,66.97 116.60,67.14 117.10,67.17 117.60,67.16 118.10,67.04 118.60,66.86 119.10,66.77 119.60,66.94 120.10,67.22 120.60,67.28 121.10,67.11 121.60,66.89 122.10,66.78 122.60,66.80 123.10,66.72 123.60,66.53 124.10,66.53 124.60,66.77 125.10,66.95 125.60,67.03 126.10,67.04 126.60,66.96 127.10,66.87 127.60,66.91 128.10,66.96 128.60,66.96 129.10,67.01 129.60,67.07 130.10,67.10 130.60,67.14 131.10,67.18 131.60,67.14 132.10,67.06 132.60,67.00 133.10,66.94 133.60,66.89 134.10,66.86 134.60,66.92 135.10,67.03 135.60,67.13 136.10,67.19 136.60,67.17 137.10,67.13 137.60,67.14 138.10,67.08 138.60,66.95 139.10,66.95 139.60,67.11 140.10,67.19 140.60,67.09 141.10,67.02 141.60,67.04 142.10,67.04 142.60,67.10 143.10,67.13 143.60,67.05 144.10,66.99 144.60,67.00 145.10,66.97 145.60,66.91 146.10,67.00 146.60,67.09 147.10,67.01 147.60,66.93 148.10,66.91 148.60,66.93 149.10,66.93 149.60,66.94 150.10,66.94 150.60,66.95 151.10,67.01 151.60,67.04 152.10,66.96 152.60,66.91 153.10,66.97 153.60,67.05 154.10,67.14 154.60,67.26 155.10,67.28 155.60,67.22 156.10,67.15 156.60,67.03 157.10,66.90 157.60,66.90 158.10,67.02 158.60,67.10 159.10,67.10 159.60,66.97 160.10,66.78 160.60,66.81 161.10,66.91 161.60,66.92 162.10,67.01 162.60,67.05 163.10,66.92 163.60,66.83 164.10,66.88 164.60,66.94 165.10,66.95 165.60,66.95 166.10,66.93 166.60,66.98 167.10,67.14 167.60,67.23 168.10,67.17 168.60,67.00 169.10,66.81 169.60,66.71 170.10,66.71 170.60,66.78 171.10,66.86 171.60,66.84 172.10,66.69 172.60,66.64 173.10,66.81 173.60,66.99 174.10,67.07 174.60,67.09 175.10,67.06 175.60,66.95 176.10,66.80 176.60,66.69 177.10,66.68 177.60,66.70 178.10,66.69 178.60,66.70 179.10,66.78 179.60,66.95 180.10,67.09 180.60,67.13 181.10,67.16 181.60,67.21 182.10,67.19 182.60,67.07 183.10,66.92 183.60,66.93 184.10,67.08 184.60,67.16 185.10,67.15 185.60,67.17 186.10,67.22 186.60,67.20 187.10,67.08 187.60,66.90 188.10,66.70 188.60,66.63 189.10,66.74 189.60,66.90 190.10,66.97 190.60,66.90 191.10,66.78 191.60,66.73 192.10,66.84 192.60,67.07 193.10,67.15 193.60,67.11 194.10,67.09 194.60,67.12 195.10,67.06 195.60,66.91 196.10,66.84 196.60,66.92 197.10,67.02 197.60,66.98 198.10,66.91 198.60,66.98 199.10,67.02 199.60,66.87 200.10,66.72 200.60,66.71 201.10,66.78 201.60,66.87 202.10,66.93 202.60,66.92 203.10,66.84 203.60,66.75 204.10,66.77 204.60,66.88 205.10,66.89 205.60,66.76 206.10,66.65 206.60,66.68 207.10,66.66 207.60,66.33 208.10,65.77 208.60,65.26 209.10,64.76 209.60,64.05 210.10,63.39 210.60,63.13 211.10,63.17 211.60,63.42 212.10,64.01 212.60,64.81 213.10,65.49 213.60,65.93 214.10,66.21 214.60,66.46 215.10,66.68 215.60,66.81 216.10,66.70 216.60,66.33 217.10,65.80 217.60,65.23 218.10,64.54 218.60,63.72 219.10,63.08 219.60,62.87 220.10,63.12 220.60,63.74 221.10,64.50 221.60,65.18 222.10,65.79 222.60,66.31 223.10,66.69 223.60,66.94 224.10,66.95 224.60,66.70 225.10,66.37 225.60,65.96 226.10,65.18 226.60,64.07 227.10,62.90 227.60,61.95 228.10,61.42 228.60,61.28 229.10,61.55 229.60,62.37 230.10,63.50 230.60,64.52 231.10,65.28 231.60,65.90 232.10,66.36 232.60,66.58 233.10,66.67 233.60,66.64 234.10,66.40 234.60,65.81 235.10,64.80 235.60,63.35 236.10,61.47 236.60,59.40 237.10,57.56 237.60,56.37 238.10,56.17 238.60,57.10 239.10,58.87 239.60,60.97 240.10,63.03 240.60,64.71 241.10,65.79 241.60,66.38 242.10,66.77 242.60,67.06 243.10,67.13 243.60,66.95 244.10,66.52 244.60,65.95 245.10,65.43 245.60,65.10 246.10,64.94 246.60,64.85 247.10,64.77 247.60,64.75 248.10,64.98 248.60,65.51 249.10,66.11 249.60,66.54 250.10,66.76 250.60,66.71 251.10,66.29 251.60,65.47 252.10,64.31 252.60,62.87 253.10,61.16 253.60,59.53 254.10,58.39 254.60,58.00 255.10,58.58 255.60,59.94 256.10,61.63 256.60,63.30 257.10,64.70 257.60,65.65 258.10,66.14 258.60,66.31 259.10,66.13 259.60,65.45 260.10,64.09 260.60,61.98 261.10,59.42 261.60,56.91 262.10,54.99 262.60,54.17 263.10,54.68 263.60,56.26 264.10,58.44 264.60,60.76 265.10,62.78 265.60,64.32 266.10,65.40 266.60,66.01 267.10,66.34 267.60,66.58 268.10,66.63 268.60,66.30 269.10,65.61 269.60,64.86 270.10,64.29 270.60,63.98 271.10,63.94 271.60,64.24 272.10,64.76 272.60,65.28 273.10,65.76 273.60,66.14 274.10,66.40 274.60,66.63 275.10,66.55 275.60,65.82 276.10,64.41 276.60,62.34 277.10,59.58 277.60,56.47 278.10,53.67 278.60,51.75 279.10,51.12 279.60,52.14 280.10,54.66 280.60,57.79 281.10,60.66 281.60,62.94 282.10,64.57 282.60,65.55 283.10,65.85 283.60,65.48 284.10,64.57 284.60,63.04 285.10,60.89 285.60,58.74 286.10,57.14 286.60,56.29 287.10,56.54 287.60,58.00 288.10,60.09 288.60,62.13 289.10,63.80 289.60,64.95 290.10,65.59 290.60,65.75 291.10,65.29 291.60,63.99 292.10,62.07 292.60,59.93 293.10,57.89 293.60,56.30 294.10,55.60 294.60,56.01 295.10,57.38 295.60,59.34 296.10,61.48 296.60,63.42 297.10,64.77 297.60,65.25 298.10,65.03 298.60,64.23 299.10,62.73 299.60,60.63 300.10,58.24 300.60,56.11 301.10,55.00 301.60,55.32 302.10,56.87 302.60,59.10 303.10,61.42 303.60,63.34 304.10,64.61 304.60,65.33 305.10,65.72 305.60,65.77 306.10,65.42 306.60,64.77 307.10,64.18 307.60,63.97 308.10,63.99 308.60,64.00 309.10,64.19 309.60,64.74 310.10,65.49 310.60,66.25 311.10,66.81 311.60,66.89 312.10,66.42 312.60,65.54 313.10,64.47 313.60,63.41 314.10,62.51 314.60,61.95 315.10,61.92 315.60,62.38 316.10,63.26 316.60,64.46 317.10,65.53 317.60,66.10 318.10,66.26 318.60,66.04 319.10,65.29 319.60,64.22 320.10,63.12 320.60,62.08 321.10,61.29 321.60,61.03 322.10,61.47 322.60,62.59 323.10,63.95 323.60,64.96 324.10,65.50 324.60,65.87 325.10,66.20 325.60,66.40 326.10,66.53 326.60,66.76 327.10,67.03 327.60,67.12 328.10,66.96 328.60,66.84 329.10,66.96 329.60,66.84 330.10,64.75 330.60,62.08 331.10,59.16 331.60,56.15 332.10,52.99 332.60,49.70 333.10,46.29 333.60,42.85 334.10,39.50 334.60,36.19 335.10,32.72 335.60,29.00 336.10,25.13 336.60,21.25" fill="none" stroke="#ff00ff" stroke-width="1.5" stroke-linejoin="round"/>
<rect x="23.6" y="2.4" width="313.3" height="322.8" fill="none" stroke="#555" stroke-width="1.2"/>
<line x1="20.6" y1="325.2" x2="23.6" y2="325.2" stroke="#333" stroke-width="1"/>
<line x1="58.6" y1="325.2" x2="58.6" y2="331.5" stroke="#444" stroke-width="1"/>
<text x="58.6" y="347.5" font-family="Liberation Sans" font-size="16.6" font-weight="normal" text-anchor="middle" textLength="20.7" lengthAdjust="spacingAndGlyphs" fill="#1a1a1a" stroke="#1a1a1a" stroke-width="0.35">4000</text>
<line x1="96.7" y1="325.2" x2="96.7" y2="331.5" stroke="#444" stroke-width="1"/>
<text x="96.7" y="347.5" font-family="Liberation Sans" font-size="16.6" font-weight="normal" text-anchor="middle" textLength="20.7" lengthAdjust="spacingAndGlyphs" fill="#1a1a1a" stroke="#1a1a1a" stroke-width="0.35">3500</text>
<line x1="134.9" y1="325.2" x2="134.9" y2="331.5" stroke="#444" stroke-width="1"/>
<text x="134.9" y="347.5" font-family="Liberation Sans" font-size="16.6" font-weight="normal" text-anchor="middle" textLength="20.7" lengthAdjust="spacingAndGlyphs" fill="#1a1a1a" stroke="#1a1a1a" stroke-width="0.35">3000</text>
<line x1="173.0" y1="325.2" x2="173.0" y2="331.5" stroke="#444" stroke-width="1"/>
<text x="173.0" y="347.5" font-family="Liberation Sans" font-size="16.6" font-weight="normal" text-anchor="middle" textLength="20.7" lengthAdjust="spacingAndGlyphs" fill="#1a1a1a" stroke="#1a1a1a" stroke-width="0.35">2500</text>
<line x1="211.2" y1="325.2" x2="211.2" y2="331.5" stroke="#444" stroke-width="1"/>
<text x="211.2" y="347.5" font-family="Liberation Sans" font-size="16.6" font-weight="normal" text-anchor="middle" textLength="20.7" lengthAdjust="spacingAndGlyphs" fill="#1a1a1a" stroke="#1a1a1a" stroke-width="0.35">2000</text>
<line x1="249.3" y1="325.2" x2="249.3" y2="331.5" stroke="#444" stroke-width="1"/>
<text x="249.3" y="347.5" font-family="Liberation Sans" font-size="16.6" font-weight="normal" text-anchor="middle" textLength="20.7" lengthAdjust="spacingAndGlyphs" fill="#1a1a1a" stroke="#1a1a1a" stroke-width="0.35">1500</text>
<line x1="287.5" y1="325.2" x2="287.5" y2="331.5" stroke="#444" stroke-width="1"/>
<text x="287.5" y="347.5" font-family="Liberation Sans" font-size="16.6" font-weight="normal" text-anchor="middle" textLength="20.7" lengthAdjust="spacingAndGlyphs" fill="#1a1a1a" stroke="#1a1a1a" stroke-width="0.35">1000</text>
<line x1="325.6" y1="325.2" x2="325.6" y2="331.5" stroke="#444" stroke-width="1"/>
<text x="325.6" y="347.5" font-family="Liberation Sans" font-size="16.6" font-weight="normal" text-anchor="middle" textLength="15.524999999999999" lengthAdjust="spacingAndGlyphs" fill="#1a1a1a" stroke="#1a1a1a" stroke-width="0.35">500</text>
<ellipse cx="11.4" cy="323.4" rx="3.5" ry="3.7" fill="none" stroke="#111" stroke-width="1.5"/>
<text x="0" y="0" transform="translate(13.0,169.35) rotate(-90)" font-family="Liberation Sans" font-size="16.4" text-anchor="middle" textLength="148.9" lengthAdjust="spacingAndGlyphs" fill="#111" stroke="#111" stroke-width="0.35">Raman Intensity</text>
<text x="109.03" y="372.01" font-family="Liberation Sans" font-size="19.61" font-weight="normal" text-anchor="start" textLength="94.03" lengthAdjust="spacingAndGlyphs" fill="#111" stroke="#111" stroke-width="0.4">Wavenumber</text>
<text x="217.22" y="372.61" font-family="Liberation Sans" font-size="18.98" font-weight="normal" text-anchor="start" textLength="21.23" lengthAdjust="spacingAndGlyphs" fill="#111" stroke="#111" stroke-width="0.4">cm</text>
<rect x="243.1" y="362.70" width="2.60" height="1.2" fill="#111"/>
<text x="247.98" y="366.50" font-family="Liberation Sans" font-size="12.50" font-weight="normal" text-anchor="start" textLength="3.10" lengthAdjust="spacingAndGlyphs" fill="#111" stroke="#111" stroke-width="0.4">1</text>
<text x="47.41" y="53.60" font-family="Liberation Sans" font-size="19.91" font-weight="bold" text-anchor="start" textLength="8.92" lengthAdjust="spacingAndGlyphs" fill="#000" stroke="#000" stroke-width="0.2">E</text>
<text x="47.30" y="115.80" font-family="Liberation Sans" font-size="19.91" font-weight="bold" text-anchor="start" textLength="10.30" lengthAdjust="spacingAndGlyphs" fill="#000" stroke="#000" stroke-width="0.2">D</text>
<text x="47.83" y="175.61" font-family="Liberation Sans" font-size="19.35" font-weight="bold" text-anchor="start" textLength="10.05" lengthAdjust="spacingAndGlyphs" fill="#000" stroke="#000" stroke-width="0.2">C</text>
<text x="48.07" y="238.10" font-family="Liberation Sans" font-size="19.19" font-weight="bold" text-anchor="start" textLength="10.07" lengthAdjust="spacingAndGlyphs" fill="#000" stroke="#000" stroke-width="0.2">B</text>
<text x="48.84" y="298.80" font-family="Liberation Sans" font-size="19.48" font-weight="bold" text-anchor="start" textLength="10.33" lengthAdjust="spacingAndGlyphs" fill="#000" stroke="#000" stroke-width="0.2">A</text>
<text x="313.1" y="32.0" font-family="Liberation Serif" font-size="24.8" font-weight="normal" text-anchor="start" textLength="7.3" lengthAdjust="spacingAndGlyphs" fill="#000" stroke="#000" stroke-width="0.25">I</text>
<line x1="608.5" y1="80" x2="608.5" y2="331.6" stroke="#a070d0" stroke-width="1" stroke-dasharray="3 2.5"/>
<line x1="630.0" y1="80" x2="630.0" y2="331.6" stroke="#a070d0" stroke-width="1" stroke-dasharray="3 2.5"/>
<line x1="646.7" y1="80" x2="646.7" y2="331.6" stroke="#a070d0" stroke-width="1" stroke-dasharray="3 2.5"/>
<line x1="662.4" y1="80" x2="662.4" y2="331.6" stroke="#2a3a8a" stroke-width="1" stroke-dasharray="3 2.5"/>
<line x1="689.6" y1="80" x2="689.6" y2="331.6" stroke="#2a3a8a" stroke-width="1" stroke-dasharray="3 2.5"/>
<polyline points="384.30,330.46 384.80,330.35 385.30,330.19 385.80,330.10 386.30,330.02 386.80,330.05 387.30,330.15 387.80,330.07 388.30,329.93 388.80,329.78 389.30,329.86 389.80,330.05 390.30,330.07 390.80,330.00 391.30,329.90 391.80,329.79 392.30,329.74 392.80,329.74 393.30,329.90 393.80,330.20 394.30,330.45 394.80,330.43 395.30,330.15 395.80,329.90 396.30,329.88 396.80,330.06 397.30,330.20 397.80,330.30 398.30,330.42 398.80,330.43 399.30,330.27 399.80,330.18 400.30,330.12 400.80,330.05 401.30,330.10 401.80,330.10 402.30,329.91 402.80,329.86 403.30,330.03 403.80,330.31 404.30,330.52 404.80,330.50 405.30,330.30 405.80,330.15 406.30,330.03 406.80,329.85 407.30,329.81 407.80,329.84 408.30,329.95 408.80,330.06 409.30,330.02 409.80,330.06 410.30,330.14 410.80,329.98 411.30,329.80 411.80,329.79 412.30,329.97 412.80,330.22 413.30,330.28 413.80,330.22 414.30,330.11 414.80,329.98 415.30,329.88 415.80,329.94 416.30,330.02 416.80,329.88 417.30,329.81 417.80,330.04 418.30,330.32 418.80,330.36 419.30,330.36 419.80,330.40 420.30,330.36 420.80,330.25 421.30,330.05 421.80,329.99 422.30,330.14 422.80,330.26 423.30,330.24 423.80,330.23 424.30,330.17 424.80,330.10 425.30,330.23 425.80,330.24 426.30,329.93 426.80,329.64 427.30,329.59 427.80,329.63 428.30,329.68 428.80,329.72 429.30,329.60 429.80,329.64 430.30,329.91 430.80,330.16 431.30,330.33 431.80,330.33 432.30,330.23 432.80,330.21 433.30,330.12 433.80,330.00 434.30,329.91 434.80,329.76 435.30,329.69 435.80,329.76 436.30,329.77 436.80,329.84 437.30,330.11 437.80,330.40 438.30,330.45 438.80,330.15 439.30,329.87 439.80,329.72 440.30,329.58 440.80,329.61 441.30,329.82 441.80,330.06 442.30,330.18 442.80,330.11 443.30,330.04 443.80,330.09 444.30,330.15 444.80,330.14 445.30,330.18 445.80,330.31 446.30,330.25 446.80,330.06 447.30,329.94 447.80,329.96 448.30,330.12 448.80,330.26 449.30,330.20 449.80,329.98 450.30,329.92 450.80,330.07 451.30,330.24 451.80,330.21 452.30,330.02 452.80,329.94 453.30,329.87 453.80,329.93 454.30,330.20 454.80,330.26 455.30,330.10 455.80,330.08 456.30,330.20 456.80,330.24 457.30,330.24 457.80,330.19 458.30,330.05 458.80,329.92 459.30,329.81 459.80,329.78 460.30,329.86 460.80,330.06 461.30,330.23 461.80,330.45 462.30,330.56 462.80,330.40 463.30,330.16 463.80,330.15 464.30,330.17 464.80,329.97 465.30,329.90 465.80,330.04 466.30,330.15 466.80,330.19 467.30,330.09 467.80,329.91 468.30,330.01 468.80,330.17 469.30,330.25 469.80,330.31 470.30,330.29 470.80,330.28 471.30,330.38 471.80,330.41 472.30,330.28 472.80,330.19 473.30,330.28 473.80,330.31 474.30,330.27 474.80,330.27 475.30,330.16 475.80,329.99 476.30,329.94 476.80,329.92 477.30,329.92 477.80,330.12 478.30,330.35 478.80,330.40 479.30,330.22 479.80,330.07 480.30,329.96 480.80,329.77 481.30,329.75 481.80,329.95 482.30,330.15 482.80,330.16 483.30,330.23 483.80,330.37 484.30,330.33 484.80,330.32 485.30,330.30 485.80,330.00 486.30,329.75 486.80,329.89 487.30,330.12 487.80,330.12 488.30,330.05 488.80,330.10 489.30,330.10 489.80,330.04 490.30,329.95 490.80,329.96 491.30,330.07 491.80,330.02 492.30,330.03 492.80,330.21 493.30,330.33 493.80,330.30 494.30,330.45 494.80,330.71 495.30,330.69 495.80,330.56 496.30,330.45 496.80,330.35 497.30,330.14 497.80,329.87 498.30,329.81 498.80,329.83 499.30,329.69 499.80,329.65 500.30,329.92 500.80,330.15 501.30,330.04 501.80,329.97 502.30,330.10 502.80,330.05 503.30,329.86 503.80,329.77 504.30,329.83 504.80,329.97 505.30,330.10 505.80,330.08 506.30,329.94 506.80,329.94 507.30,330.11 507.80,330.09 508.30,329.92 508.80,329.96 509.30,330.24 509.80,330.36 510.30,330.15 510.80,329.91 511.30,329.85 511.80,330.02 512.30,330.24 512.80,330.26 513.30,330.20 513.80,330.01 514.30,329.79 514.80,329.87 515.30,330.03 515.80,330.04 516.30,329.93 516.80,329.91 517.30,330.04 517.80,330.17 518.30,330.27 518.80,330.30 519.30,330.20 519.80,330.10 520.30,330.13 520.80,330.29 521.30,330.36 521.80,330.18 522.30,329.97 522.80,329.95 523.30,330.22 523.80,330.51 524.30,330.58 524.80,330.40 525.30,330.23 525.80,330.24 526.30,330.35 526.80,330.24 527.30,330.05 527.80,330.06 528.30,330.20 528.80,330.36 529.30,330.51 529.80,330.48 530.30,330.21 530.80,329.91 531.30,329.85 531.80,329.94 532.30,329.95 532.80,329.91 533.30,329.95 533.80,330.06 534.30,330.05 534.80,330.07 535.30,330.20 535.80,330.18 536.30,330.05 536.80,329.97 537.30,329.92 537.80,329.85 538.30,329.77 538.80,329.73 539.30,329.72 539.80,329.77 540.30,329.98 540.80,330.12 541.30,330.18 541.80,330.34 542.30,330.47 542.80,330.35 543.30,330.16 543.80,330.20 544.30,330.16 544.80,329.92 545.30,329.91 545.80,330.09 546.30,330.20 546.80,330.18 547.30,330.15 547.80,330.11 548.30,330.11 548.80,330.14 549.30,330.18 549.80,330.27 550.30,330.30 550.80,330.23 551.30,330.05 551.80,329.95 552.30,330.06 552.80,330.15 553.30,330.03 553.80,330.04 554.30,330.12 554.80,330.11 555.30,330.01 555.80,329.91 556.30,329.93 556.80,329.92 557.30,329.85 557.80,329.94 558.30,330.27 558.80,330.55 559.30,330.67 559.80,330.54 560.30,330.26 560.80,330.10 561.30,330.06 561.80,330.00 562.30,329.89 562.80,329.76 563.30,329.78 563.80,329.89 564.30,329.84 564.80,329.89 565.30,330.09 565.80,330.19 566.30,330.31 566.80,330.40 567.30,330.39 567.80,330.38 568.30,330.33 568.80,330.29 569.30,330.16 569.80,330.03 570.30,330.08 570.80,330.15 571.30,330.04 571.80,329.88 572.30,329.84 572.80,329.78 573.30,329.49 573.80,329.09 574.30,328.40 574.80,327.37 575.30,326.33 575.80,325.50 576.30,325.10 576.80,325.09 577.30,325.31 577.80,325.93 578.30,326.83 578.80,327.69 579.30,328.45 579.80,328.97 580.30,329.46 580.80,329.93 581.30,330.12 581.80,329.99 582.30,329.67 582.80,329.26 583.30,328.72 583.80,327.78 584.30,326.52 584.80,325.46 585.30,324.63 585.80,324.25 586.30,324.68 586.80,325.59 587.30,326.48 587.80,327.43 588.30,328.39 588.80,329.20 589.30,329.54 589.80,329.55 590.30,329.51 590.80,329.47 591.30,329.37 591.80,329.09 592.30,328.49 592.80,327.42 593.30,325.88 593.80,324.36 594.30,323.37 594.80,323.02 595.30,323.16 595.80,323.68 596.30,324.67 596.80,326.15 597.30,327.61 597.80,328.60 598.30,329.23 598.80,329.73 599.30,330.03 599.80,330.07 600.30,329.83 600.80,329.37 601.30,328.81 601.80,327.78 602.30,326.23 602.80,324.42 603.30,322.43 603.80,320.56 604.30,319.36 604.80,319.22 605.30,320.14 605.80,321.79 606.30,323.69 606.80,325.59 607.30,327.31 607.80,328.55 608.30,329.41 608.80,329.97 609.30,330.15 609.80,330.12 610.30,330.04 610.80,329.80 611.30,329.43 611.80,329.05 612.30,328.71 612.80,328.23 613.30,327.85 613.80,327.85 614.30,328.10 614.80,328.38 615.30,328.72 615.80,329.07 616.30,329.34 616.80,329.57 617.30,329.61 617.80,329.49 618.30,329.25 618.80,328.68 619.30,327.67 619.80,326.37 620.30,324.76 620.80,322.92 621.30,321.51 621.80,321.03 622.30,321.37 622.80,322.35 623.30,323.89 623.80,325.54 624.30,326.96 624.80,328.04 625.30,328.77 625.80,329.07 626.30,329.00 626.80,328.53 627.30,327.43 627.80,325.88 628.30,323.96 628.80,321.46 629.30,318.86 629.80,317.13 630.30,316.93 630.80,318.08 631.30,320.00 631.80,322.26 632.30,324.64 632.80,326.72 633.30,328.17 633.80,329.06 634.30,329.59 634.80,329.95 635.30,329.94 635.80,329.74 636.30,329.63 636.80,329.38 637.30,328.82 637.80,328.22 638.30,327.91 638.80,327.91 639.30,328.16 639.80,328.42 640.30,328.69 640.80,329.14 641.30,329.68 641.80,329.97 642.30,329.78 642.80,329.45 643.30,329.11 643.80,328.42 644.30,326.88 644.80,324.40 645.30,321.27 645.80,317.99 646.30,315.34 646.80,313.86 647.30,313.94 647.80,315.44 648.30,317.92 648.80,321.06 649.30,324.16 649.80,326.63 650.30,328.21 650.80,328.94 651.30,329.29 651.80,329.09 652.30,328.04 652.80,326.31 653.30,324.23 653.80,322.04 654.30,320.20 654.80,319.14 655.30,319.19 655.80,320.31 656.30,321.97 656.80,323.93 657.30,325.92 657.80,327.58 658.30,328.67 658.80,329.17 659.30,328.99 659.80,327.93 660.30,326.17 660.80,324.13 661.30,322.07 661.80,320.11 662.30,318.65 662.80,318.18 663.30,318.86 663.80,320.48 664.30,322.80 664.80,325.31 665.30,327.17 665.80,328.17 666.30,328.40 666.80,327.91 667.30,326.83 667.80,325.26 668.30,323.15 668.80,320.90 669.30,319.05 669.80,318.04 670.30,318.24 670.80,319.69 671.30,321.83 671.80,324.04 672.30,326.12 672.80,327.76 673.30,328.64 673.80,328.97 674.30,328.86 674.80,328.32 675.30,327.66 675.80,327.15 676.30,326.68 676.80,326.38 677.30,326.30 677.80,326.66 678.30,327.38 678.80,327.99 679.30,328.59 679.80,329.14 680.30,329.37 680.80,329.23 681.30,328.72 681.80,327.84 682.30,326.66 682.80,325.51 683.30,324.50 683.80,323.63 684.30,323.34 684.80,323.92 685.30,325.22 685.80,326.66 686.30,327.73 686.80,328.39 687.30,328.72 687.80,328.53 688.30,327.67 688.80,326.55 689.30,325.42 689.80,324.23 690.30,323.25 690.80,322.80 691.30,323.21 691.80,324.29 692.30,325.47 692.80,326.80 693.30,328.02 693.80,328.70 694.30,329.15 694.80,329.57 695.30,329.89 695.80,330.07 696.30,330.10 696.80,330.11 697.30,330.02 697.80,329.95 698.30,330.05 698.80,330.09 699.30,329.93 699.80,329.01 700.30,326.98 700.80,324.52 701.30,321.61 701.80,318.57 702.30,315.52 702.80,312.30 703.30,308.89 703.80,305.18 704.30,301.26 704.80,297.25 705.30,293.29 705.80,289.21" fill="none" stroke="#ff00ff" stroke-width="1.4" stroke-linejoin="round"/>
<polyline points="384.30,260.15 384.80,260.31 385.30,260.58 385.80,260.60 386.30,260.24 386.80,259.89 387.30,259.83 387.80,259.82 388.30,259.83 388.80,259.81 389.30,259.73 389.80,259.82 390.30,259.73 390.80,259.58 391.30,259.76 391.80,259.98 392.30,260.08 392.80,260.20 393.30,260.32 393.80,260.13 394.30,259.83 394.80,259.85 395.30,259.94 395.80,259.92 396.30,259.89 396.80,259.91 397.30,260.03 397.80,260.15 398.30,260.10 398.80,260.01 399.30,259.96 399.80,260.04 400.30,260.16 400.80,260.17 401.30,260.08 401.80,259.93 402.30,259.88 402.80,259.93 403.30,259.95 403.80,259.84 404.30,259.78 404.80,259.74 405.30,259.85 405.80,260.04 406.30,260.07 406.80,260.01 407.30,259.84 407.80,259.68 408.30,259.69 408.80,259.85 409.30,260.03 409.80,260.00 410.30,259.86 410.80,259.85 411.30,259.93 411.80,259.94 412.30,260.05 412.80,260.27 413.30,260.27 413.80,260.19 414.30,260.25 414.80,260.20 415.30,259.98 415.80,259.92 416.30,259.99 416.80,260.05 417.30,260.11 417.80,260.15 418.30,260.06 418.80,259.89 419.30,259.82 419.80,259.96 420.30,260.07 420.80,260.15 421.30,260.17 421.80,260.02 422.30,259.93 422.80,259.98 423.30,259.96 423.80,259.90 424.30,259.77 424.80,259.80 425.30,260.12 425.80,260.37 426.30,260.39 426.80,260.40 427.30,260.33 427.80,260.06 428.30,259.86 428.80,259.96 429.30,260.20 429.80,260.38 430.30,260.38 430.80,260.26 431.30,260.11 431.80,260.07 432.30,260.05 432.80,260.01 433.30,259.94 433.80,259.84 434.30,259.87 434.80,259.96 435.30,259.92 435.80,259.78 436.30,259.70 436.80,259.73 437.30,259.80 437.80,260.00 438.30,260.18 438.80,260.20 439.30,260.13 439.80,260.19 440.30,260.17 440.80,260.05 441.30,260.08 441.80,260.06 442.30,259.93 442.80,259.88 443.30,259.88 443.80,259.89 444.30,259.81 444.80,259.74 445.30,259.72 445.80,259.74 446.30,259.91 446.80,260.00 447.30,259.93 447.80,259.88 448.30,259.98 448.80,260.02 449.30,259.90 449.80,259.86 450.30,260.06 450.80,260.20 451.30,260.10 451.80,259.99 452.30,260.06 452.80,260.19 453.30,260.27 453.80,260.14 454.30,259.96 454.80,259.86 455.30,259.84 455.80,259.92 456.30,260.05 456.80,260.14 457.30,260.24 457.80,260.11 458.30,259.88 458.80,259.94 459.30,260.14 459.80,260.12 460.30,260.11 460.80,260.12 461.30,260.01 461.80,259.88 462.30,259.92 462.80,260.13 463.30,260.21 463.80,260.23 464.30,260.16 464.80,259.85 465.30,259.72 465.80,259.88 466.30,259.98 466.80,260.00 467.30,260.02 467.80,260.03 468.30,260.01 468.80,259.98 469.30,259.81 469.80,259.66 470.30,259.73 470.80,260.05 471.30,260.23 471.80,260.24 472.30,260.12 472.80,260.09 473.30,260.27 473.80,260.44 474.30,260.36 474.80,260.02 475.30,259.72 475.80,259.72 476.30,259.96 476.80,260.18 477.30,260.31 477.80,260.40 478.30,260.29 478.80,260.03 479.30,259.95 479.80,259.96 480.30,259.87 480.80,259.71 481.30,259.75 481.80,260.00 482.30,260.13 482.80,260.00 483.30,259.76 483.80,259.69 484.30,259.70 484.80,259.68 485.30,259.94 485.80,260.32 486.30,260.42 486.80,260.21 487.30,260.05 487.80,260.01 488.30,259.88 488.80,259.79 489.30,259.78 489.80,259.69 490.30,259.64 490.80,259.80 491.30,259.95 491.80,259.88 492.30,259.71 492.80,259.69 493.30,259.99 493.80,260.19 494.30,260.08 494.80,259.98 495.30,259.97 495.80,259.89 496.30,259.82 496.80,259.87 497.30,260.07 497.80,260.17 498.30,260.10 498.80,259.97 499.30,259.80 499.80,259.78 500.30,259.78 500.80,259.69 501.30,259.68 501.80,259.70 502.30,259.79 502.80,259.94 503.30,260.04 503.80,260.12 504.30,260.18 504.80,260.07 505.30,259.91 505.80,259.92 506.30,259.90 506.80,259.80 507.30,259.89 507.80,259.86 508.30,259.75 508.80,259.81 509.30,260.00 509.80,260.04 510.30,259.93 510.80,259.80 511.30,259.79 511.80,259.79 512.30,259.67 512.80,259.57 513.30,259.64 513.80,259.83 514.30,259.99 514.80,260.04 515.30,260.04 515.80,259.95 516.30,260.00 516.80,260.19 517.30,260.24 517.80,260.12 518.30,260.05 518.80,260.09 519.30,260.11 519.80,260.12 520.30,260.10 520.80,260.01 521.30,259.83 521.80,259.71 522.30,259.77 522.80,259.80 523.30,259.66 523.80,259.66 524.30,259.79 524.80,259.87 525.30,260.04 525.80,260.14 526.30,260.00 526.80,259.78 527.30,259.78 527.80,259.87 528.30,259.94 528.80,259.94 529.30,259.82 529.80,259.66 530.30,259.64 530.80,259.74 531.30,259.73 531.80,259.86 532.30,260.00 532.80,259.78 533.30,259.55 533.80,259.60 534.30,259.80 534.80,260.05 535.30,260.19 535.80,260.08 536.30,260.01 536.80,260.06 537.30,260.01 537.80,259.87 538.30,259.80 538.80,260.07 539.30,260.36 539.80,260.41 540.30,260.22 540.80,260.03 541.30,260.00 541.80,259.97 542.30,259.85 542.80,259.76 543.30,259.80 543.80,260.04 544.30,260.25 544.80,260.23 545.30,260.11 545.80,260.01 546.30,260.04 546.80,260.09 547.30,260.16 547.80,260.23 548.30,260.11 548.80,259.97 549.30,260.01 549.80,260.04 550.30,260.05 550.80,260.10 551.30,260.06 551.80,260.00 552.30,260.01 552.80,260.04 553.30,260.13 553.80,260.23 554.30,260.08 554.80,259.71 555.30,259.63 555.80,259.74 556.30,259.71 556.80,259.67 557.30,259.80 557.80,260.09 558.30,260.34 558.80,260.31 559.30,260.02 559.80,259.71 560.30,259.67 560.80,259.86 561.30,259.88 561.80,259.68 562.30,259.66 562.80,259.87 563.30,259.96 563.80,259.98 564.30,260.05 564.80,260.10 565.30,260.11 565.80,260.17 566.30,260.21 566.80,260.04 567.30,259.82 567.80,259.73 568.30,259.75 568.80,259.80 569.30,259.74 569.80,259.68 570.30,259.79 570.80,259.83 571.30,259.80 571.80,259.96 572.30,260.11 572.80,260.00 573.30,259.67 573.80,259.19 574.30,258.45 574.80,257.47 575.30,256.51 575.80,255.75 576.30,255.21 576.80,254.94 577.30,255.12 577.80,255.87 578.30,257.00 578.80,257.96 579.30,258.68 579.80,259.31 580.30,259.64 580.80,259.78 581.30,259.91 581.80,259.97 582.30,259.85 582.80,259.51 583.30,258.90 583.80,258.23 584.30,257.47 584.80,256.66 585.30,256.03 585.80,255.73 586.30,255.88 586.80,256.46 587.30,257.31 587.80,258.25 588.30,259.03 588.80,259.58 589.30,259.96 589.80,260.14 590.30,260.04 590.80,259.82 591.30,259.68 591.80,259.50 592.30,259.04 592.80,258.31 593.30,257.61 593.80,257.17 594.30,256.72 594.80,256.32 595.30,256.19 595.80,256.52 596.30,257.15 596.80,257.90 597.30,258.80 597.80,259.65 598.30,259.99 598.80,260.02 599.30,260.01 599.80,259.83 600.30,259.72 600.80,259.69 601.30,259.24 601.80,258.28 602.30,257.05 602.80,255.79 603.30,254.57 603.80,253.49 604.30,252.70 604.80,252.57 605.30,253.19 605.80,254.32 606.30,255.74 606.80,256.98 607.30,257.92 607.80,258.68 608.30,259.22 608.80,259.67 609.30,259.99 609.80,260.10 610.30,259.88 610.80,259.55 611.30,259.46 611.80,259.28 612.30,258.81 612.80,258.47 613.30,258.26 613.80,258.19 614.30,258.21 614.80,258.17 615.30,258.43 615.80,258.95 616.30,259.38 616.80,259.68 617.30,259.85 617.80,259.83 618.30,259.56 618.80,258.85 619.30,257.62 619.80,256.08 620.30,254.44 620.80,252.68 621.30,251.37 621.80,250.91 622.30,251.20 622.80,252.10 623.30,253.70 623.80,255.62 624.30,257.22 624.80,258.23 625.30,258.89 625.80,259.36 626.30,259.38 626.80,259.04 627.30,258.43 627.80,257.23 628.30,255.60 628.80,253.98 629.30,252.55 629.80,251.54 630.30,251.21 630.80,251.81 631.30,253.06 631.80,254.64 632.30,256.24 632.80,257.52 633.30,258.45 633.80,259.09 634.30,259.51 634.80,259.90 635.30,260.02 635.80,259.69 636.30,259.38 636.80,259.19 637.30,258.84 637.80,258.37 638.30,258.15 638.80,258.08 639.30,257.99 639.80,258.14 640.30,258.82 640.80,259.50 641.30,259.78 641.80,260.00 642.30,260.09 642.80,259.87 643.30,259.44 643.80,258.76 644.30,257.72 644.80,256.19 645.30,254.39 645.80,252.53 646.30,250.81 646.80,249.80 647.30,250.01 647.80,251.21 648.30,252.79 648.80,254.52 649.30,256.21 649.80,257.65 650.30,258.63 650.80,259.26 651.30,259.52 651.80,259.43 652.30,259.02 652.80,258.36 653.30,257.56 653.80,256.78 654.30,256.03 654.80,255.44 655.30,255.33 655.80,255.73 656.30,256.40 656.80,257.20 657.30,258.07 657.80,258.86 658.30,259.40 658.80,259.87 659.30,259.85 659.80,259.30 660.30,258.58 660.80,257.69 661.30,256.73 661.80,255.89 662.30,255.22 662.80,254.85 663.30,254.99 663.80,255.70 664.30,256.74 664.80,257.77 665.30,258.66 665.80,259.35 666.30,259.41 666.80,259.01 667.30,258.51 667.80,257.92 668.30,257.22 668.80,256.60 669.30,256.30 669.80,256.24 670.30,256.24 670.80,256.43 671.30,257.00 671.80,257.89 672.30,258.67 672.80,259.19 673.30,259.53 673.80,259.52 674.30,259.29 674.80,259.02 675.30,258.72 675.80,258.40 676.30,257.94 676.80,257.48 677.30,257.38 677.80,257.81 678.30,258.41 678.80,258.87 679.30,259.25 679.80,259.60 680.30,259.69 680.80,259.55 681.30,259.25 681.80,258.71 682.30,257.85 682.80,256.96 683.30,256.42 683.80,256.25 684.30,256.29 684.80,256.45 685.30,256.95 685.80,257.66 686.30,258.42 686.80,259.09 687.30,259.41 687.80,259.20 688.30,258.53 688.80,257.84 689.30,257.16 689.80,256.45 690.30,255.97 690.80,255.84 691.30,256.04 691.80,256.70 692.30,257.73 692.80,258.57 693.30,259.19 693.80,259.77 694.30,260.21 694.80,260.24 695.30,260.11 695.80,260.12 696.30,260.13 696.80,260.18 697.30,260.28 697.80,260.38 698.30,260.40 698.80,260.33 699.30,260.25 699.80,260.25 700.30,259.63 700.80,258.13 701.30,256.28 701.80,254.23 702.30,252.23 702.80,250.07 703.30,247.61 703.80,245.03 704.30,242.37 704.80,239.59 705.30,236.89 705.80,234.13" fill="none" stroke="#2ab270" stroke-width="1.45" stroke-linejoin="round"/>
<polyline points="384.30,195.22 384.90,209.93 385.50,190.66 386.10,200.77 386.70,197.23 387.30,196.71 387.90,192.08 388.50,199.75 389.10,205.60 389.70,194.88 390.30,199.32 390.90,204.22 391.50,205.44 392.10,196.03 392.70,200.35 393.30,203.69 393.90,205.11 394.50,209.18 395.10,196.98 395.70,200.13 396.30,196.28 396.90,202.26 397.50,191.84 398.10,194.06 398.70,193.91 399.30,195.65 399.90,200.50 400.50,197.56 401.10,211.52 401.70,202.19 402.30,198.69 402.90,202.87 403.50,207.12 404.10,207.23 404.70,207.57 405.30,198.83 405.90,199.84 406.50,205.11 407.10,210.95 407.70,202.24 408.30,213.20 408.90,208.97 409.50,209.16 410.10,200.04 410.70,206.05 411.30,202.45 411.90,205.14 412.50,207.06 413.10,201.19 413.70,198.59 414.30,203.96 414.90,201.84 415.50,206.11 416.10,198.24 416.70,200.21 417.30,196.58 417.90,202.38 418.50,196.62 419.10,205.90 419.70,200.22 420.30,207.32 420.90,203.43 421.50,208.18 422.10,208.22 422.70,201.20 423.30,197.82 423.90,200.26 424.50,213.12 425.10,198.43 425.70,205.95 426.30,210.73 426.90,205.26 427.50,193.89 428.10,200.18 428.70,208.24 429.30,203.36 429.90,202.07 430.50,201.28 431.10,204.89 431.70,200.71 432.30,202.92 432.90,212.38 433.50,207.20 434.10,196.21 434.70,197.14 435.30,199.16 435.90,206.23 436.50,203.13 437.10,205.25 437.70,201.45 438.30,193.75 438.90,200.23 439.50,194.60 440.10,196.00 440.70,188.34 441.30,193.21 441.90,205.81 442.50,203.06 443.10,200.12 443.70,201.15 444.30,189.96 444.90,197.17 445.50,205.49 446.10,202.31 446.70,205.95 447.30,205.11 447.90,195.12 448.50,209.39 449.10,202.86 449.70,206.50 450.30,197.08 450.90,203.75 451.50,204.73 452.10,206.12 452.70,197.48 453.30,209.66 453.90,207.08 454.50,208.25 455.10,197.27 455.70,194.08 456.30,209.59 456.90,205.04 457.50,188.70 458.10,204.55 458.70,199.55 459.30,199.97 459.90,204.03 460.50,207.80 461.10,197.50 461.70,204.56 462.30,208.70 462.90,193.57 463.50,200.17 464.10,204.39 464.70,201.65 465.30,208.78 465.90,200.40 466.50,204.55 467.10,188.64 467.70,211.37 468.30,199.77 468.90,193.97 469.50,203.37 470.10,199.67 470.70,204.21 471.30,198.52 471.90,197.32 472.50,183.97 473.10,205.08 473.70,198.59 474.30,201.53 474.90,205.79 475.50,199.39 476.10,193.53 476.70,204.12 477.30,201.73 477.90,190.70 478.50,199.45 479.10,202.21 479.70,192.15 480.30,203.37 480.90,212.91 481.50,209.17 482.10,207.81 482.70,200.60 483.30,197.05 483.90,211.74 484.50,193.04 485.10,206.87 485.70,201.13 486.30,198.93 486.90,199.87 487.50,200.79 488.10,202.30 488.70,202.04 489.30,195.73 489.90,188.73 490.50,197.03 491.10,187.84 491.70,193.04 492.30,198.95 492.90,193.57 493.50,197.95 494.10,200.92 494.70,212.61 495.30,192.05 495.90,192.85 496.50,196.36 497.10,203.52 497.70,201.18 498.30,193.93 498.90,200.87 499.50,207.68 500.10,203.85 500.70,192.88 501.30,207.19 501.90,203.20 502.50,209.15 503.10,206.84 503.70,194.16 504.30,200.73 504.90,202.92 505.50,206.16 506.10,201.20 506.70,199.66 507.30,198.77 507.90,197.68 508.50,202.13 509.10,193.22 509.70,210.75 510.30,200.19 510.90,206.35 511.50,198.50 512.10,203.42 512.70,199.68 513.30,197.93 513.90,199.97 514.50,198.01 515.10,207.78 515.70,199.30 516.30,203.43 516.90,202.31 517.50,197.89 518.10,197.49 518.70,192.09 519.30,213.06 519.90,200.27 520.50,199.45 521.10,209.78 521.70,201.42 522.30,192.93 522.90,200.40 523.50,208.55 524.10,202.96 524.70,203.29 525.30,198.72 525.90,203.54 526.50,201.57 527.10,206.36 527.70,199.68 528.30,207.60 528.90,201.94 529.50,203.45 530.10,202.45 530.70,192.08 531.30,200.63 531.90,199.46 532.50,200.27 533.10,205.33 533.70,202.23 534.30,200.13 534.90,202.59 535.50,193.38 536.10,211.09 536.70,203.02 537.30,210.08 537.90,197.66 538.50,199.99 539.10,199.96 539.70,192.46 540.30,202.69 540.90,208.39 541.50,208.26 542.10,197.51 542.70,196.26 543.30,201.75 543.90,211.12 544.50,192.83 545.10,210.29 545.70,201.20 546.30,202.16 546.90,199.85 547.50,206.60 548.10,204.25 548.70,194.34 549.30,200.79 549.90,204.53 550.50,199.07 551.10,199.21 551.70,202.63 552.30,205.63 552.90,195.36 553.50,196.94 554.10,207.39 554.70,199.42 555.30,199.07 555.90,202.29 556.50,209.44 557.10,204.36 557.70,201.32 558.30,197.80 558.90,200.54 559.50,200.17 560.10,200.26 560.70,196.79 561.30,195.71 561.90,200.23 562.50,205.66 563.10,188.07 563.70,211.26 564.30,203.27 564.90,204.95 565.50,202.08 566.10,200.18 566.70,202.99 567.30,205.26 567.90,196.28 568.50,204.59 569.10,200.91 569.70,201.76 570.30,194.99 570.90,192.98 571.50,187.29 572.10,195.96 572.70,197.92 573.30,209.77 573.90,206.86 574.50,197.80 575.10,212.79 575.70,206.74 576.30,208.78 576.90,199.85 577.50,195.49 578.10,206.41 578.70,202.10 579.30,205.86 579.90,189.16 580.50,198.55 581.10,197.24 581.70,212.91 582.30,194.81 582.90,198.84 583.50,209.61 584.10,205.93 584.70,197.80 585.30,186.29 585.90,198.46 586.50,204.24 587.10,201.94 587.70,203.50 588.30,207.60 588.90,208.13 589.50,201.14 590.10,204.29 590.70,196.42 591.30,208.04 591.90,199.27 592.50,200.74 593.10,201.31 593.70,210.02 594.30,208.72 594.90,208.18 595.50,202.52 596.10,204.88 596.70,191.29 597.30,201.97 597.90,196.50 598.50,199.70 599.10,208.93 599.70,201.02 600.30,196.68 600.90,195.61 601.50,205.61 602.10,204.67 602.70,204.99 603.30,187.74 603.90,171.39 604.50,155.38 605.10,138.54 605.70,111.70 606.30,84.20 606.90,57.03 607.50,42.54 608.10,29.22 608.70,18.75 609.30,30.81 609.90,42.40 610.50,53.90 611.10,66.70 611.70,81.36 612.30,95.59 612.90,109.90 613.50,123.38 614.10,136.90 614.70,153.24 615.30,166.96 615.90,181.72 616.50,190.47 617.10,203.16 617.70,199.15 618.30,209.02 618.90,206.18 619.50,202.80 620.10,200.22 620.70,196.43 621.30,197.95 621.90,177.89 622.50,186.09 623.10,191.12 623.70,185.56 624.30,167.88 624.90,163.64 625.50,158.69 626.10,153.82 626.70,145.50 627.30,147.80 627.90,161.18 628.50,167.06 629.10,175.22 629.70,163.26 630.30,175.40 630.90,178.88 631.50,175.45 632.10,192.07 632.70,179.61 633.30,192.29 633.90,195.06 634.50,198.96 635.10,195.40 635.70,197.48 636.30,209.83 636.90,195.24 637.50,202.86 638.10,190.48 638.70,199.33 639.30,192.13 639.90,199.11 640.50,191.86 641.10,172.57 641.70,175.87 642.30,172.34 642.90,174.28 643.50,164.87 644.10,173.75 644.70,182.21 645.30,184.89 645.90,184.85 646.50,191.12 647.10,184.84 647.70,194.51 648.30,196.97 648.90,205.55 649.50,198.72 650.10,196.55 650.70,198.85 651.30,196.15 651.90,198.37 652.50,205.67 653.10,198.01 653.70,203.74 654.30,208.53 654.90,198.63 655.50,193.99 656.10,194.54 656.70,205.10 657.30,203.12 657.90,198.24 658.50,197.35 659.10,199.71 659.70,201.96 660.30,205.76 660.90,201.40 661.50,194.84 662.10,191.27 662.70,201.95 663.30,191.47 663.90,205.21 664.50,206.04 665.10,206.00 665.70,184.76 666.30,196.81 666.90,197.46 667.50,200.01 668.10,204.10 668.70,201.53 669.30,201.01 669.90,196.35 670.50,193.15 671.10,194.64 671.70,216.81 672.30,206.24 672.90,201.33 673.50,197.69 674.10,195.30 674.70,195.62 675.30,201.48 675.90,196.98 676.50,199.36 677.10,196.69 677.70,208.71 678.30,200.72 678.90,204.57 679.50,196.87 680.10,199.10 680.70,206.32 681.30,198.68 681.90,201.68 682.50,202.82 683.10,207.34 683.70,194.33 684.30,197.45 684.90,203.59 685.50,204.79 686.10,197.68 686.70,193.14 687.30,192.88 687.90,203.84 688.50,205.42 689.10,211.61 689.70,189.15 690.30,207.66 690.90,201.62 691.50,202.07 692.10,193.80 692.70,206.06 693.30,211.07 693.90,204.09 694.50,203.38 695.10,199.66 695.70,206.66 696.30,207.08 696.90,203.93 697.50,203.97 698.10,206.03 698.70,201.73 699.30,200.79 699.90,211.94 700.50,199.47 701.10,201.18 701.70,200.23 702.30,202.39 702.90,211.70 703.50,199.71 704.10,199.86 704.70,206.90 705.30,199.68 705.90,207.78" fill="none" stroke="#2020f0" stroke-width="1.4" stroke-linejoin="round"/>
<polyline points="384.30,145.63 385.00,144.93 385.70,145.88 386.40,136.33 387.10,141.82 387.80,148.61 388.50,142.88 389.20,151.32 389.90,149.21 390.60,141.78 391.30,149.02 392.00,147.28 392.70,152.18 393.40,146.18 394.10,151.00 394.80,141.50 395.50,143.30 396.20,144.18 396.90,147.72 397.60,139.72 398.30,144.67 399.00,147.47 399.70,147.79 400.40,144.17 401.10,144.99 401.80,143.77 402.50,146.00 403.20,144.56 403.90,143.28 404.60,150.71 405.30,144.51 406.00,148.69 406.70,147.90 407.40,150.60 408.10,147.93 408.80,143.18 409.50,146.85 410.20,149.91 410.90,147.42 411.60,142.40 412.30,144.00 413.00,148.98 413.70,142.86 414.40,146.43 415.10,143.77 415.80,139.48 416.50,143.10 417.20,151.75 417.90,146.51 418.60,143.93 419.30,144.94 420.00,144.95 420.70,140.83 421.40,148.47 422.10,143.32 422.80,142.34 423.50,143.16 424.20,142.79 424.90,144.58 425.60,140.80 426.30,145.28 427.00,146.71 427.70,144.83 428.40,148.17 429.10,150.72 429.80,147.47 430.50,144.33 431.20,145.48 431.90,150.17 432.60,148.57 433.30,144.42 434.00,146.75 434.70,145.68 435.40,142.30 436.10,140.86 436.80,143.13 437.50,142.89 438.20,147.41 438.90,147.06 439.60,137.86 440.30,132.48 441.00,140.62 441.70,139.67 442.40,136.79 443.10,141.48 443.80,147.05 444.50,143.31 445.20,140.14 445.90,140.85 446.60,149.33 447.30,139.08 448.00,143.89 448.70,143.13 449.40,144.58 450.10,142.32 450.80,150.35 451.50,138.24 452.20,145.17 452.90,146.19 453.60,145.30 454.30,152.21 455.00,148.60 455.70,147.11 456.40,149.36 457.10,144.05 457.80,142.14 458.50,144.81 459.20,139.94 459.90,144.28 460.60,147.06 461.30,144.60 462.00,139.89 462.70,147.00 463.40,142.24 464.10,146.27 464.80,135.59 465.50,142.74 466.20,141.39 466.90,144.34 467.60,148.19 468.30,137.82 469.00,142.46 469.70,145.90 470.40,150.19 471.10,144.74 471.80,146.89 472.50,138.26 473.20,148.08 473.90,146.98 474.60,146.99 475.30,150.74 476.00,149.48 476.70,140.39 477.40,144.01 478.10,147.80 478.80,150.37 479.50,142.87 480.20,143.46 480.90,144.91 481.60,146.86 482.30,142.72 483.00,144.49 483.70,146.16 484.40,141.97 485.10,149.69 485.80,149.48 486.50,131.46 487.20,142.82 487.90,149.93 488.60,145.17 489.30,142.73 490.00,144.51 490.70,144.37 491.40,144.23 492.10,145.60 492.80,148.87 493.50,145.30 494.20,141.87 494.90,149.57 495.60,145.77 496.30,145.18 497.00,147.09 497.70,147.60 498.40,141.29 499.10,139.43 499.80,143.85 500.50,150.44 501.20,147.36 501.90,143.91 502.60,137.72 503.30,144.67 504.00,142.83 504.70,143.51 505.40,139.27 506.10,147.87 506.80,144.95 507.50,146.60 508.20,149.95 508.90,149.06 509.60,137.51 510.30,147.44 511.00,150.37 511.70,146.31 512.40,141.71 513.10,141.76 513.80,142.27 514.50,147.23 515.20,146.15 515.90,142.32 516.60,144.86 517.30,145.57 518.00,144.79 518.70,139.77 519.40,146.08 520.10,140.33 520.80,146.35 521.50,147.91 522.20,142.75 522.90,148.98 523.60,150.61 524.30,148.25 525.00,145.75 525.70,144.30 526.40,147.41 527.10,146.32 527.80,150.53 528.50,146.34 529.20,145.38 529.90,151.11 530.60,150.21 531.30,143.92 532.00,143.46 532.70,146.95 533.40,149.90 534.10,146.53 534.80,144.92 535.50,143.03 536.20,150.53 536.90,144.61 537.60,144.50 538.30,145.56 539.00,140.82 539.70,145.34 540.40,146.73 541.10,148.97 541.80,147.91 542.50,145.59 543.20,142.15 543.90,143.74 544.60,146.15 545.30,141.56 546.00,150.57 546.70,144.41 547.40,145.22 548.10,146.55 548.80,142.30 549.50,148.74 550.20,148.00 550.90,145.56 551.60,149.60 552.30,143.62 553.00,147.27 553.70,147.55 554.40,152.00 555.10,145.13 555.80,146.22 556.50,144.84 557.20,141.11 557.90,144.75 558.60,151.73 559.30,145.84 560.00,148.73 560.70,146.03 561.40,143.07 562.10,146.95 562.80,141.97 563.50,142.76 564.20,144.53 564.90,147.83 565.60,147.89 566.30,151.94 567.00,140.82 567.70,147.54 568.40,143.58 569.10,145.95 569.80,153.51 570.50,145.68 571.20,144.90 571.90,139.06 572.60,150.19 573.30,148.15 574.00,145.30 574.70,148.60 575.40,140.51 576.10,148.56 576.80,134.68 577.50,146.44 578.20,137.72 578.90,145.24 579.60,144.56 580.30,139.78 581.00,141.02 581.70,143.14 582.40,143.47 583.10,145.22 583.80,146.28 584.50,150.19 585.20,138.86 585.90,144.73 586.60,143.18 587.30,146.77 588.00,146.93 588.70,145.87 589.40,150.83 590.10,146.47 590.80,144.44 591.50,137.75 592.20,140.50 592.90,142.27 593.60,144.63 594.30,145.35 595.00,151.34 595.70,145.80 596.40,140.52 597.10,143.10 597.80,134.81 598.50,140.60 599.20,143.90 599.90,138.87 600.60,143.14 601.30,138.27 602.00,137.46 602.70,145.31 603.40,139.18 604.10,130.00 604.80,119.22 605.50,98.29 606.20,78.70 606.90,60.36 607.60,46.30 608.30,38.94 609.00,32.76 609.70,30.28 610.40,35.76 611.10,41.08 611.80,41.89 612.50,41.19 613.20,37.22 613.90,39.37 614.60,45.59 615.30,82.26 616.00,129.97 616.70,138.21 617.40,143.39 618.10,147.62 618.80,144.97 619.50,143.78 620.20,149.75 620.90,140.74 621.60,140.42 622.30,139.74 623.00,147.41 623.70,144.95 624.40,134.97 625.10,133.59 625.80,136.05 626.50,134.95 627.20,127.74 627.90,128.26 628.60,126.21 629.30,127.05 630.00,119.58 630.70,124.46 631.40,136.05 632.10,127.92 632.80,134.51 633.50,134.39 634.20,141.74 634.90,144.75 635.60,140.97 636.30,155.44 637.00,138.07 637.70,142.31 638.40,152.23 639.10,152.20 639.80,145.68 640.50,150.32 641.20,142.97 641.90,142.52 642.60,137.80 643.30,124.56 644.00,114.70 644.70,101.67 645.40,90.51 646.10,103.08 646.80,113.04 647.50,122.69 648.20,139.32 648.90,142.29 649.60,145.34 650.30,146.06 651.00,151.73 651.70,148.50 652.40,144.93 653.10,145.27 653.80,139.61 654.50,146.20 655.20,147.63 655.90,147.56 656.60,145.74 657.30,149.47 658.00,153.44 658.70,143.13 659.40,144.54 660.10,144.24 660.80,150.72 661.50,144.71 662.20,140.41 662.90,146.99 663.60,145.32 664.30,147.67 665.00,141.99 665.70,143.00 666.40,138.76 667.10,142.84 667.80,138.77 668.50,141.06 669.20,137.55 669.90,139.56 670.60,140.51 671.30,142.37 672.00,136.49 672.70,143.05 673.40,143.86 674.10,148.03 674.80,143.97 675.50,138.67 676.20,147.89 676.90,142.10 677.60,144.59 678.30,146.67 679.00,146.24 679.70,149.99 680.40,148.76 681.10,146.99 681.80,147.27 682.50,150.71 683.20,142.29 683.90,150.16 684.60,144.51 685.30,147.47 686.00,146.98 686.70,142.48 687.40,149.06 688.10,146.72 688.80,141.75 689.50,146.20 690.20,149.77 690.90,150.13 691.60,141.62 692.30,149.22 693.00,147.02 693.70,141.19 694.40,145.99 695.10,145.97 695.80,144.16 696.50,151.25 697.20,148.12 697.90,149.73 698.60,148.46 699.30,150.09 700.00,148.34 700.70,141.47 701.40,140.19 702.10,144.00 702.80,149.04 703.50,149.83 704.20,143.75 704.90,146.09 705.60,141.79" fill="none" stroke="#6a2828" stroke-width="1.2" stroke-linejoin="round"/>
<polyline points="384.30,87.28 384.80,87.24 385.30,87.32 385.80,87.57 386.30,87.71 386.80,87.67 387.30,87.56 387.80,87.53 388.30,87.62 388.80,87.67 389.30,87.51 389.80,87.44 390.30,87.49 390.80,87.58 391.30,87.60 391.80,87.49 392.30,87.45 392.80,87.54 393.30,87.58 393.80,87.62 394.30,87.82 394.80,87.89 395.30,87.81 395.80,87.90 396.30,87.95 396.80,87.53 397.30,87.15 397.80,87.52 398.30,87.84 398.80,87.68 399.30,87.52 399.80,87.61 400.30,87.67 400.80,87.55 401.30,87.48 401.80,87.50 402.30,87.43 402.80,87.42 403.30,87.59 403.80,87.69 404.30,87.58 404.80,87.47 405.30,87.53 405.80,87.78 406.30,87.93 406.80,87.99 407.30,87.96 407.80,87.73 408.30,87.57 408.80,87.39 409.30,86.78 409.80,86.35 410.30,86.77 410.80,87.26 411.30,87.50 411.80,87.64 412.30,87.59 412.80,87.64 413.30,87.78 413.80,87.71 414.30,87.58 414.80,87.54 415.30,87.58 415.80,87.45 416.30,86.88 416.80,86.42 417.30,86.83 417.80,87.37 418.30,87.53 418.80,87.52 419.30,87.41 419.80,87.41 420.30,87.45 420.80,87.34 421.30,87.20 421.80,87.31 422.30,87.55 422.80,87.53 423.30,87.50 423.80,87.63 424.30,87.66 424.80,87.61 425.30,87.62 425.80,87.51 426.30,87.53 426.80,87.78 427.30,87.90 427.80,87.81 428.30,87.51 428.80,87.20 429.30,87.31 429.80,87.69 430.30,87.72 430.80,87.42 431.30,87.27 431.80,87.43 432.30,87.62 432.80,87.62 433.30,87.62 433.80,87.69 434.30,87.69 434.80,87.59 435.30,87.55 435.80,87.63 436.30,87.77 436.80,87.85 437.30,87.70 437.80,87.53 438.30,87.64 438.80,87.68 439.30,87.43 439.80,87.21 440.30,87.19 440.80,87.44 441.30,87.73 441.80,87.69 442.30,87.31 442.80,87.18 443.30,87.51 443.80,87.69 444.30,87.67 444.80,87.72 445.30,87.74 445.80,87.66 446.30,87.50 446.80,87.39 447.30,87.40 447.80,87.46 448.30,87.59 448.80,87.81 449.30,88.05 449.80,87.97 450.30,87.70 450.80,87.58 451.30,87.47 451.80,87.32 452.30,87.22 452.80,87.23 453.30,87.35 453.80,87.58 454.30,87.78 454.80,87.86 455.30,87.89 455.80,87.90 456.30,87.81 456.80,87.68 457.30,87.66 457.80,87.82 458.30,87.94 458.80,87.76 459.30,87.50 459.80,87.37 460.30,87.47 460.80,87.65 461.30,87.55 461.80,87.24 462.30,87.07 462.80,87.00 463.30,87.13 463.80,87.43 464.30,87.51 464.80,87.44 465.30,87.40 465.80,87.43 466.30,87.52 466.80,87.69 467.30,87.85 467.80,87.84 468.30,87.77 468.80,87.69 469.30,87.60 469.80,87.46 470.30,87.38 470.80,87.43 471.30,87.50 471.80,87.59 472.30,87.68 472.80,87.71 473.30,87.67 473.80,87.58 474.30,87.54 474.80,87.61 475.30,87.69 475.80,87.66 476.30,87.74 476.80,87.81 477.30,87.77 477.80,87.71 478.30,87.69 478.80,87.80 479.30,87.88 479.80,87.73 480.30,87.52 480.80,87.60 481.30,87.79 481.80,87.83 482.30,87.73 482.80,87.60 483.30,87.65 483.80,87.61 484.30,87.63 484.80,87.72 485.30,87.57 485.80,87.39 486.30,87.38 486.80,87.39 487.30,87.39 487.80,87.43 488.30,87.32 488.80,86.70 489.30,86.20 489.80,86.79 490.30,87.44 490.80,87.70 491.30,87.73 491.80,87.47 492.30,87.23 492.80,87.29 493.30,87.30 493.80,86.66 494.30,86.00 494.80,86.06 495.30,86.41 495.80,87.21 496.30,87.75 496.80,87.89 497.30,87.99 497.80,88.09 498.30,88.08 498.80,87.82 499.30,87.43 499.80,87.25 500.30,87.33 500.80,87.46 501.30,87.72 501.80,87.89 502.30,87.73 502.80,87.59 503.30,87.59 503.80,87.55 504.30,87.60 504.80,87.83 505.30,87.94 505.80,87.82 506.30,87.70 506.80,87.55 507.30,87.32 507.80,87.26 508.30,87.39 508.80,87.38 509.30,87.29 509.80,87.28 510.30,87.36 510.80,87.43 511.30,87.28 511.80,87.14 512.30,87.30 512.80,87.49 513.30,87.41 513.80,87.31 514.30,87.27 514.80,86.79 515.30,86.34 515.80,86.91 516.30,87.48 516.80,87.65 517.30,87.66 517.80,87.51 518.30,87.55 518.80,87.68 519.30,87.69 519.80,87.84 520.30,88.00 520.80,87.87 521.30,87.60 521.80,87.47 522.30,87.49 522.80,87.52 523.30,87.51 523.80,87.47 524.30,87.40 524.80,87.43 525.30,87.48 525.80,87.59 526.30,87.75 526.80,87.65 527.30,87.42 527.80,87.43 528.30,87.54 528.80,87.43 529.30,86.87 529.80,86.40 530.30,86.93 530.80,87.57 531.30,87.71 531.80,87.62 532.30,87.75 532.80,87.91 533.30,87.83 533.80,87.73 534.30,87.72 534.80,87.66 535.30,87.32 535.80,87.12 536.30,87.42 536.80,87.61 537.30,87.54 537.80,87.26 538.30,87.11 538.80,87.38 539.30,87.53 539.80,87.44 540.30,87.39 540.80,87.47 541.30,87.34 541.80,87.22 542.30,87.53 542.80,87.76 543.30,87.69 543.80,87.55 544.30,87.47 544.80,87.56 545.30,87.61 545.80,87.36 546.30,87.11 546.80,87.41 547.30,87.90 547.80,87.93 548.30,87.75 548.80,87.57 549.30,87.38 549.80,87.18 550.30,87.17 550.80,87.31 551.30,87.45 551.80,87.50 552.30,87.41 552.80,87.30 553.30,87.27 553.80,86.93 554.30,86.54 554.80,86.83 555.30,86.93 555.80,86.79 556.30,87.28 556.80,87.89 557.30,88.00 557.80,87.67 558.30,87.47 558.80,87.45 559.30,87.39 559.80,87.45 560.30,87.72 560.80,87.96 561.30,87.78 561.80,87.39 562.30,87.09 562.80,87.03 563.30,87.31 563.80,87.81 564.30,87.97 564.80,87.72 565.30,87.50 565.80,87.44 566.30,87.54 566.80,87.69 567.30,87.79 567.80,87.70 568.30,87.62 568.80,87.54 569.30,87.50 569.80,87.52 570.30,87.50 570.80,87.40 571.30,87.21 571.80,87.00 572.30,86.62 572.80,85.69 573.30,84.28 573.80,82.73 574.30,81.14 574.80,79.89 575.30,79.30 575.80,79.37 576.30,80.07 576.80,81.37 577.30,83.07 577.80,84.77 578.30,85.96 578.80,86.60 579.30,87.08 579.80,87.52 580.30,87.52 580.80,87.26 581.30,86.83 581.80,86.10 582.30,84.88 582.80,83.32 583.30,81.76 583.80,80.34 584.30,79.38 584.80,79.13 585.30,79.63 585.80,80.88 586.30,82.53 586.80,84.07 587.30,85.31 587.80,86.22 588.30,86.87 588.80,87.14 589.30,86.99 589.80,86.72 590.30,86.32 590.80,85.66 591.30,84.56 591.80,82.85 592.30,80.63 592.80,78.40 593.30,76.89 593.80,76.36 594.30,76.79 594.80,78.20 595.30,80.22 595.80,82.48 596.30,84.40 596.80,85.72 597.30,86.69 597.80,87.22 598.30,87.17 598.80,87.05 599.30,86.98 599.80,86.49 600.30,85.66 600.80,84.23 601.30,82.04 601.80,79.23 602.30,76.17 602.80,73.84 603.30,72.80 603.80,73.17 604.30,74.81 604.80,77.21 605.30,80.01 605.80,82.78 606.30,84.77 606.80,85.90 607.30,86.52 607.80,86.98 608.30,87.40 608.80,87.55 609.30,87.43 609.80,87.25 610.30,86.81 610.80,85.89 611.30,85.15 611.80,85.25 612.30,85.52 612.80,85.70 613.30,86.02 613.80,86.27 614.30,86.38 614.80,86.43 615.30,86.73 615.80,87.15 616.30,87.44 616.80,87.28 617.30,86.38 617.80,85.12 618.30,83.61 618.80,81.53 619.30,79.22 619.80,77.09 620.30,75.38 620.80,74.82 621.30,75.74 621.80,77.65 622.30,80.08 622.80,82.52 623.30,84.24 623.80,85.01 624.30,85.12 624.80,85.44 625.30,86.18 625.80,86.15 626.30,84.87 626.80,82.80 627.30,80.24 627.80,77.52 628.30,75.14 628.80,73.81 629.30,73.82 629.80,75.15 630.30,77.32 630.80,79.85 631.30,82.44 631.80,84.64 632.30,86.02 632.80,86.63 633.30,87.01 633.80,87.32 634.30,87.45 634.80,87.49 635.30,87.31 635.80,86.86 636.30,86.30 636.80,85.91 637.30,85.66 637.80,85.47 638.30,85.51 638.80,85.81 639.30,86.22 639.80,86.70 640.30,87.02 640.80,87.14 641.30,87.12 641.80,86.91 642.30,86.31 642.80,85.05 643.30,83.22 643.80,80.66 644.30,77.40 644.80,73.88 645.30,71.08 645.80,69.88 646.30,70.65 646.80,73.04 647.30,76.18 647.80,79.43 648.30,82.23 648.80,84.25 649.30,85.65 649.80,86.41 650.30,86.58 650.80,86.29 651.30,85.38 651.80,83.78 652.30,81.73 652.80,79.72 653.30,78.16 653.80,77.54 654.30,78.02 654.80,79.22 655.30,80.94 655.80,82.89 656.30,84.43 656.80,85.38 657.30,85.96 657.80,86.24 658.30,86.09 658.80,85.29 659.30,83.89 659.80,82.16 660.30,80.20 660.80,78.53 661.30,77.72 661.80,77.80 662.30,78.62 662.80,80.10 663.30,81.96 663.80,83.78 664.30,85.27 664.80,86.26 665.30,86.41 665.80,85.85 666.30,84.85 666.80,83.35 667.30,81.39 667.80,79.38 668.30,77.87 668.80,77.24 669.30,77.50 669.80,78.70 670.30,80.62 670.80,82.63 671.30,84.49 671.80,85.91 672.30,86.64 672.80,86.77 673.30,86.50 673.80,85.98 674.30,85.24 674.80,84.73 675.30,84.41 675.80,84.02 676.30,84.04 676.80,84.63 677.30,85.41 677.80,86.22 678.30,86.80 678.80,87.14 679.30,87.25 679.80,87.26 680.30,86.75 680.80,85.48 681.30,84.16 681.80,83.22 682.30,82.45 682.80,82.06 683.30,82.14 683.80,82.59 684.30,83.51 684.80,84.69 685.30,85.58 685.80,86.15 686.30,86.26 686.80,85.65 687.30,84.83 687.80,83.90 688.30,82.69 688.80,81.68 689.30,81.04 689.80,80.90 690.30,81.49 690.80,82.48 691.30,83.57 691.80,84.68 692.30,85.60 692.80,86.38 693.30,87.08 693.80,87.42 694.30,87.60 694.80,87.73 695.30,87.81 695.80,87.82 696.30,87.71 696.80,87.57 697.30,87.65 697.80,87.68 698.30,87.57 698.80,87.57 699.30,87.22 699.80,85.94 700.30,84.24 700.80,82.37 701.30,80.46 701.80,78.49 702.30,76.34 702.80,74.05 703.30,71.66 703.80,69.27 704.30,66.80 704.80,64.09 705.30,61.17 705.80,58.28" fill="none" stroke="#cc1f1f" stroke-width="1.6" stroke-linejoin="round"/>
<rect x="384.3" y="1.9" width="321.7" height="329.7" fill="none" stroke="#555" stroke-width="1.2"/>
<line x1="381.3" y1="331.6" x2="384.3" y2="331.6" stroke="#333" stroke-width="1"/>
<line x1="419.7" y1="331.6" x2="419.7" y2="337.90000000000003" stroke="#444" stroke-width="1"/>
<text x="419.7" y="353.1" font-family="Liberation Sans" font-size="16.6" font-weight="normal" text-anchor="middle" textLength="20.7" lengthAdjust="spacingAndGlyphs" fill="#1a1a1a" stroke="#1a1a1a" stroke-width="0.35">4000</text>
<line x1="459.0" y1="331.6" x2="459.0" y2="337.90000000000003" stroke="#444" stroke-width="1"/>
<text x="459.0" y="353.1" font-family="Liberation Sans" font-size="16.6" font-weight="normal" text-anchor="middle" textLength="20.7" lengthAdjust="spacingAndGlyphs" fill="#1a1a1a" stroke="#1a1a1a" stroke-width="0.35">3500</text>
<line x1="498.4" y1="331.6" x2="498.4" y2="337.90000000000003" stroke="#444" stroke-width="1"/>
<text x="498.4" y="353.1" font-family="Liberation Sans" font-size="16.6" font-weight="normal" text-anchor="middle" textLength="20.7" lengthAdjust="spacingAndGlyphs" fill="#1a1a1a" stroke="#1a1a1a" stroke-width="0.35">3000</text>
<line x1="537.7" y1="331.6" x2="537.7" y2="337.90000000000003" stroke="#444" stroke-width="1"/>
<text x="537.7" y="353.1" font-family="Liberation Sans" font-size="16.6" font-weight="normal" text-anchor="middle" textLength="20.7" lengthAdjust="spacingAndGlyphs" fill="#1a1a1a" stroke="#1a1a1a" stroke-width="0.35">2500</text>
<line x1="577.1" y1="331.6" x2="577.1" y2="337.90000000000003" stroke="#444" stroke-width="1"/>
<text x="577.1" y="353.1" font-family="Liberation Sans" font-size="16.6" font-weight="normal" text-anchor="middle" textLength="20.7" lengthAdjust="spacingAndGlyphs" fill="#1a1a1a" stroke="#1a1a1a" stroke-width="0.35">2000</text>
<line x1="616.4" y1="331.6" x2="616.4" y2="337.90000000000003" stroke="#444" stroke-width="1"/>
<text x="616.4" y="353.1" font-family="Liberation Sans" font-size="16.6" font-weight="normal" text-anchor="middle" textLength="20.7" lengthAdjust="spacingAndGlyphs" fill="#1a1a1a" stroke="#1a1a1a" stroke-width="0.35">1500</text>
<line x1="655.8" y1="331.6" x2="655.8" y2="337.90000000000003" stroke="#444" stroke-width="1"/>
<text x="655.8" y="353.1" font-family="Liberation Sans" font-size="16.6" font-weight="normal" text-anchor="middle" textLength="20.7" lengthAdjust="spacingAndGlyphs" fill="#1a1a1a" stroke="#1a1a1a" stroke-width="0.35">1000</text>
<line x1="695.1" y1="331.6" x2="695.1" y2="337.90000000000003" stroke="#444" stroke-width="1"/>
<text x="695.1" y="353.1" font-family="Liberation Sans" font-size="16.6" font-weight="normal" text-anchor="middle" textLength="15.524999999999999" lengthAdjust="spacingAndGlyphs" fill="#1a1a1a" stroke="#1a1a1a" stroke-width="0.35">500</text>
<ellipse cx="371.4" cy="330.3" rx="3.45" ry="3.1" fill="none" stroke="#111" stroke-width="1.35"/>
<text x="0" y="0" transform="translate(373.2,172.4) rotate(-90)" font-family="Liberation Sans" font-size="16.8" text-anchor="middle" textLength="140.2" lengthAdjust="spacingAndGlyphs" fill="#111" stroke="#111" stroke-width="0.35">Raman Intensity</text>
<text x="472.43" y="376.13" font-family="Liberation Sans" font-size="17.84" font-weight="normal" text-anchor="start" textLength="97.04" lengthAdjust="spacingAndGlyphs" fill="#111" stroke="#111" stroke-width="0.4">Wavenumber</text>
<text x="583.81" y="376.52" font-family="Liberation Sans" font-size="18.25" font-weight="normal" text-anchor="start" textLength="21.55" lengthAdjust="spacingAndGlyphs" fill="#111" stroke="#111" stroke-width="0.4">cm</text>
<rect x="610.2" y="367.30" width="2.70" height="1.2" fill="#111"/>
<text x="614.88" y="371.10" font-family="Liberation Sans" font-size="12.50" font-weight="normal" text-anchor="start" textLength="3.10" lengthAdjust="spacingAndGlyphs" fill="#111" stroke="#111" stroke-width="0.4">1</text>
<text x="408.47" y="75.72" font-family="Liberation Sans" font-size="18.49" font-weight="bold" text-anchor="start" textLength="8.35" lengthAdjust="spacingAndGlyphs" fill="#000" stroke="#000" stroke-width="0.2">J</text>
<text x="408.25" y="134.50" font-family="Liberation Sans" font-size="18.60" font-weight="bold" text-anchor="start" textLength="11.30" lengthAdjust="spacingAndGlyphs" fill="#000" stroke="#000" stroke-width="0.2">H</text>
<text x="409.29" y="191.42" font-family="Liberation Sans" font-size="18.93" font-weight="bold" text-anchor="start" textLength="11.64" lengthAdjust="spacingAndGlyphs" fill="#000" stroke="#000" stroke-width="0.2">G</text>
<text x="409.08" y="251.60" font-family="Liberation Sans" font-size="18.31" font-weight="bold" text-anchor="start" textLength="9.27" lengthAdjust="spacingAndGlyphs" fill="#000" stroke="#000" stroke-width="0.2">F</text>
<text x="410.09" y="307.60" font-family="Liberation Sans" font-size="18.31" font-weight="bold" text-anchor="start" textLength="10.11" lengthAdjust="spacingAndGlyphs" fill="#000" stroke="#000" stroke-width="0.2">E</text>
<text x="683.2" y="30.5" font-family="Liberation Serif" font-size="25.3" font-weight="normal" text-anchor="start" textLength="14.5" lengthAdjust="spacingAndGlyphs" fill="#000" stroke="#000" stroke-width="0.25">II</text>
<line x1="254.9" y1="432" x2="254.9" y2="686.8" stroke="#34449a" stroke-width="1.1" stroke-dasharray="1.6 1.7"/>
<line x1="262.2" y1="430" x2="262.2" y2="686.8" stroke="#34449a" stroke-width="1.1" stroke-dasharray="1.6 1.7"/>
<line x1="278.1" y1="430" x2="278.1" y2="686.8" stroke="#34449a" stroke-width="1.1" stroke-dasharray="1.6 1.7"/>
<line x1="286.1" y1="435" x2="286.1" y2="686.8" stroke="#34449a" stroke-width="1.1" stroke-dasharray="1.6 1.7"/>
<line x1="293.4" y1="435" x2="293.4" y2="686.8" stroke="#34449a" stroke-width="1.1" stroke-dasharray="1.6 1.7"/>
<line x1="300.6" y1="433" x2="300.6" y2="686.8" stroke="#34449a" stroke-width="1.1" stroke-dasharray="1.6 1.7"/>
<line x1="319.8" y1="446" x2="319.8" y2="686.8" stroke="#34449a" stroke-width="1.1" stroke-dasharray="1.6 1.7"/>
<polyline points="24.50,684.78 25.00,684.86 25.50,685.08 26.00,685.16 26.50,684.91 27.00,684.62 27.50,684.56 28.00,684.53 28.50,684.32 29.00,684.34 29.50,684.61 30.00,684.72 30.50,684.69 31.00,684.71 31.50,684.64 32.00,684.51 32.50,684.57 33.00,684.80 33.50,684.94 34.00,684.93 34.50,684.86 35.00,684.82 35.50,684.78 36.00,684.72 36.50,684.77 37.00,684.99 37.50,685.23 38.00,685.24 38.50,685.05 39.00,684.89 39.50,684.77 40.00,684.62 40.50,684.63 41.00,684.70 41.50,684.69 42.00,684.64 42.50,684.63 43.00,684.66 43.50,684.66 44.00,684.74 44.50,684.78 45.00,684.80 45.50,684.77 46.00,684.67 46.50,684.58 47.00,684.56 47.50,684.66 48.00,684.64 48.50,684.45 49.00,684.26 49.50,684.26 50.00,684.34 50.50,684.39 51.00,684.57 51.50,684.75 52.00,684.70 52.50,684.62 53.00,684.62 53.50,684.57 54.00,684.67 54.50,684.82 55.00,684.94 55.50,685.09 56.00,685.12 56.50,685.03 57.00,684.96 57.50,685.07 58.00,685.10 58.50,684.97 59.00,684.95 59.50,684.98 60.00,684.87 60.50,684.71 61.00,684.70 61.50,684.61 62.00,684.36 62.50,684.29 63.00,684.29 63.50,684.35 64.00,684.55 64.50,684.82 65.00,684.88 65.50,684.78 66.00,684.74 66.50,684.73 67.00,684.84 67.50,685.04 68.00,684.91 68.50,684.69 69.00,684.73 69.50,684.76 70.00,684.71 70.50,684.71 71.00,684.79 71.50,684.88 72.00,684.85 72.50,684.75 73.00,684.67 73.50,684.74 74.00,684.78 74.50,684.71 75.00,684.62 75.50,684.63 76.00,684.72 76.50,684.87 77.00,684.98 77.50,685.01 78.00,684.97 78.50,685.00 79.00,685.11 79.50,685.09 80.00,684.94 80.50,684.92 81.00,685.03 81.50,685.10 82.00,685.07 82.50,684.97 83.00,684.96 83.50,685.00 84.00,685.00 84.50,684.96 85.00,684.93 85.50,684.99 86.00,685.11 86.50,685.11 87.00,685.05 87.50,684.90 88.00,684.87 88.50,685.11 89.00,685.23 89.50,685.19 90.00,685.01 90.50,684.69 91.00,684.58 91.50,684.56 92.00,684.55 92.50,684.53 93.00,684.59 93.50,684.72 94.00,684.80 94.50,684.87 95.00,684.81 95.50,684.73 96.00,684.84 96.50,684.76 97.00,684.54 97.50,684.59 98.00,684.60 98.50,684.58 99.00,684.73 99.50,684.73 100.00,684.58 100.50,684.63 101.00,684.75 101.50,684.81 102.00,684.88 102.50,684.96 103.00,684.80 103.50,684.59 104.00,684.60 104.50,684.67 105.00,684.53 105.50,684.41 106.00,684.53 106.50,684.71 107.00,684.93 107.50,685.03 108.00,684.95 108.50,684.97 109.00,684.97 109.50,684.87 110.00,684.80 110.50,684.72 111.00,684.63 111.50,684.70 112.00,684.84 112.50,684.90 113.00,684.92 113.50,685.15 114.00,685.30 114.50,685.08 115.00,684.76 115.50,684.58 116.00,684.52 116.50,684.58 117.00,684.67 117.50,684.78 118.00,684.91 118.50,684.96 119.00,684.93 119.50,684.92 120.00,684.97 120.50,684.92 121.00,684.83 121.50,684.83 122.00,684.89 122.50,685.00 123.00,685.15 123.50,685.17 124.00,684.97 124.50,684.68 125.00,684.58 125.50,684.60 126.00,684.64 126.50,684.84 127.00,685.10 127.50,684.97 128.00,684.61 128.50,684.42 129.00,684.42 129.50,684.38 130.00,684.47 130.50,684.75 131.00,685.01 131.50,685.04 132.00,684.90 132.50,684.79 133.00,684.73 133.50,684.66 134.00,684.65 134.50,684.69 135.00,684.73 135.50,684.91 136.00,685.15 136.50,685.11 137.00,684.84 137.50,684.68 138.00,684.73 138.50,684.79 139.00,684.75 139.50,684.74 140.00,684.90 140.50,685.03 141.00,684.85 141.50,684.65 142.00,684.54 142.50,684.60 143.00,684.91 143.50,684.87 144.00,684.63 144.50,684.91 145.00,685.23 145.50,685.06 146.00,684.85 146.50,684.87 147.00,684.80 147.50,684.55 148.00,684.38 148.50,684.48 149.00,684.66 149.50,684.70 150.00,684.49 150.50,684.45 151.00,684.80 151.50,685.02 152.00,684.89 152.50,684.70 153.00,684.68 153.50,684.78 154.00,684.74 154.50,684.58 155.00,684.50 155.50,684.53 156.00,684.61 156.50,684.66 157.00,684.65 157.50,684.59 158.00,684.71 158.50,684.81 159.00,684.80 159.50,684.84 160.00,684.87 160.50,684.81 161.00,684.71 161.50,684.61 162.00,684.68 162.50,684.81 163.00,685.05 163.50,685.32 164.00,685.34 164.50,685.17 165.00,685.06 165.50,684.98 166.00,684.94 166.50,684.85 167.00,684.67 167.50,684.59 168.00,684.84 168.50,685.18 169.00,685.19 169.50,684.87 170.00,684.66 170.50,684.71 171.00,684.94 171.50,685.01 172.00,684.93 172.50,684.81 173.00,684.70 173.50,684.65 174.00,684.77 174.50,684.89 175.00,684.86 175.50,684.68 176.00,684.57 176.50,684.69 177.00,684.93 177.50,685.08 178.00,685.04 178.50,684.92 179.00,684.87 179.50,684.76 180.00,684.61 180.50,684.62 181.00,684.75 181.50,684.87 182.00,684.89 182.50,684.87 183.00,684.84 183.50,684.83 184.00,684.82 184.50,684.76 185.00,684.62 185.50,684.59 186.00,684.64 186.50,684.75 187.00,685.01 187.50,685.20 188.00,685.21 188.50,685.02 189.00,684.77 189.50,684.62 190.00,684.66 190.50,684.85 191.00,684.97 191.50,685.12 192.00,685.19 192.50,685.02 193.00,684.73 193.50,684.59 194.00,684.56 194.50,684.59 195.00,684.59 195.50,684.58 196.00,684.61 196.50,684.62 197.00,684.61 197.50,684.67 198.00,684.76 198.50,684.87 199.00,685.03 199.50,685.11 200.00,684.90 200.50,684.64 201.00,684.73 201.50,684.90 202.00,684.80 202.50,684.57 203.00,684.65 203.50,685.08 204.00,685.38 204.50,685.37 205.00,685.18 205.50,684.91 206.00,684.65 206.50,684.55 207.00,684.44 207.50,684.19 208.00,683.99 208.50,683.60 209.00,683.08 209.50,682.60 210.00,682.09 210.50,681.78 211.00,681.82 211.50,682.17 212.00,682.80 212.50,683.41 213.00,683.87 213.50,684.27 214.00,684.53 214.50,684.65 215.00,684.67 215.50,684.71 216.00,684.68 216.50,684.36 217.00,683.82 217.50,683.16 218.00,682.58 218.50,682.11 219.00,681.85 219.50,681.73 220.00,681.84 220.50,682.17 221.00,682.64 221.50,683.08 222.00,683.55 222.50,684.10 223.00,684.72 223.50,685.01 224.00,684.75 224.50,684.35 225.00,684.01 225.50,683.61 226.00,683.15 226.50,682.38 227.00,681.27 227.50,680.33 228.00,679.93 228.50,679.96 229.00,680.30 229.50,681.04 230.00,682.12 230.50,682.96 231.00,683.53 231.50,683.94 232.00,684.36 232.50,684.70 233.00,684.76 233.50,684.67 234.00,684.41 234.50,683.72 235.00,682.58 235.50,681.06 236.00,678.96 236.50,676.74 237.00,675.16 237.50,674.47 238.00,674.86 238.50,676.31 239.00,678.36 239.50,680.32 240.00,681.94 240.50,683.26 241.00,684.20 241.50,684.65 242.00,684.69 242.50,684.64 243.00,684.71 243.50,684.76 244.00,684.52 244.50,684.07 245.00,683.62 245.50,683.28 246.00,683.06 246.50,683.01 247.00,683.01 247.50,683.12 248.00,683.53 248.50,684.08 249.00,684.39 249.50,684.41 250.00,684.25 250.50,684.11 251.00,683.81 251.50,683.33 252.00,682.67 252.50,681.35 253.00,679.71 253.50,678.44 254.00,677.84 254.50,677.99 255.00,678.72 255.50,679.77 256.00,680.94 256.50,682.20 257.00,683.41 257.50,684.21 258.00,684.58 258.50,684.37 259.00,683.71 259.50,682.70 260.00,681.10 260.50,678.95 261.00,676.67 261.50,674.94 262.00,674.12 262.50,674.23 263.00,675.15 263.50,676.69 264.00,678.71 264.50,680.89 265.00,682.62 265.50,683.63 266.00,684.07 266.50,684.22 267.00,684.29 267.50,684.31 268.00,684.19 268.50,683.90 269.00,683.56 269.50,683.25 270.00,682.87 270.50,682.69 271.00,682.80 271.50,683.08 272.00,683.53 272.50,683.98 273.00,684.24 273.50,684.35 274.00,684.31 274.50,684.15 275.00,683.85 275.50,682.99 276.00,681.20 276.50,678.72 277.00,676.01 277.50,673.34 278.00,671.08 278.50,670.17 279.00,670.99 279.50,673.02 280.00,675.70 280.50,678.59 281.00,681.09 281.50,682.72 282.00,683.72 282.50,684.11 283.00,683.77 283.50,682.86 284.00,681.50 284.50,679.91 285.00,678.26 285.50,676.71 286.00,675.88 286.50,676.04 287.00,676.94 287.50,678.35 288.00,680.00 288.50,681.68 289.00,683.10 289.50,683.97 290.00,684.05 290.50,683.27 291.00,682.07 291.50,680.61 292.00,678.85 292.50,677.01 293.00,675.52 293.50,674.74 294.00,674.99 294.50,676.19 295.00,678.00 295.50,680.15 296.00,682.03 296.50,683.12 297.00,683.42 297.50,683.23 298.00,682.47 298.50,681.08 299.00,679.16 299.50,677.13 300.00,675.51 300.50,674.65 301.00,675.04 301.50,676.41 302.00,678.28 302.50,680.16 303.00,681.73 303.50,682.83 304.00,683.50 304.50,683.91 305.00,683.83 305.50,683.39 306.00,682.82 306.50,682.36 307.00,682.07 307.50,681.96 308.00,682.15 308.50,682.60 309.00,683.23 309.50,683.92 310.00,684.42 310.50,684.58 311.00,684.32 311.50,683.77 312.00,683.00 312.50,682.15 313.00,681.29 313.50,680.44 314.00,680.07 314.50,680.25 315.00,680.61 315.50,681.18 316.00,681.99 316.50,682.85 317.00,683.53 317.50,683.87 318.00,683.82 318.50,683.61 319.00,683.11 319.50,682.57 320.00,682.15 320.50,681.98 321.00,682.05 321.50,682.36 322.00,683.06 322.50,683.69 323.00,683.98 323.50,684.13 324.00,684.21 324.50,684.38 325.00,684.54 325.50,684.61 326.00,684.81 326.50,685.13 327.00,685.19 327.50,684.93 328.00,684.66 328.50,684.70 329.00,684.71 329.50,684.60 330.00,684.65 330.50,683.28 331.00,680.54 331.50,677.09 332.00,673.10 332.50,668.79 333.00,664.31 333.50,659.76 334.00,655.09 334.50,650.10" fill="none" stroke="#ff00ff" stroke-width="1.5" stroke-linejoin="round"/>
<polyline points="24.50,623.03 25.00,623.23 25.50,623.48 26.00,623.45 26.50,623.39 27.00,623.33 27.50,623.31 28.00,623.41 28.50,623.32 29.00,623.43 29.50,623.34 30.00,623.13 30.50,623.16 31.00,623.22 31.50,623.03 32.00,623.18 32.50,623.42 33.00,623.43 33.50,623.42 34.00,623.39 34.50,623.48 35.00,623.45 35.50,623.49 36.00,623.22 36.50,623.08 37.00,623.11 37.50,623.49 38.00,623.81 38.50,623.71 39.00,623.31 39.50,622.94 40.00,622.96 40.50,623.09 41.00,623.39 41.50,623.47 42.00,623.30 42.50,622.97 43.00,622.38 43.50,621.72 44.00,622.16 44.50,622.89 45.00,622.38 45.50,621.78 46.00,622.30 46.50,622.87 47.00,623.14 47.50,623.63 48.00,623.77 48.50,623.29 49.00,623.05 49.50,623.27 50.00,623.31 50.50,623.47 51.00,623.87 51.50,623.92 52.00,623.51 52.50,623.36 53.00,623.53 53.50,623.32 54.00,622.58 54.50,622.01 55.00,622.53 55.50,622.99 56.00,623.22 56.50,623.37 57.00,623.38 57.50,623.31 58.00,623.34 58.50,623.20 59.00,622.64 59.50,622.07 60.00,622.54 60.50,623.19 61.00,623.59 61.50,623.65 62.00,623.48 62.50,623.20 63.00,623.33 63.50,623.51 64.00,623.71 64.50,623.75 65.00,623.71 65.50,623.38 66.00,622.62 66.50,621.91 67.00,622.51 67.50,623.05 68.00,623.24 68.50,623.32 69.00,623.46 69.50,623.43 70.00,623.43 70.50,623.45 71.00,623.42 71.50,623.57 72.00,623.49 72.50,623.40 73.00,623.42 73.50,623.48 74.00,623.39 74.50,623.50 75.00,623.58 75.50,623.58 76.00,623.43 76.50,623.10 77.00,623.01 77.50,623.48 78.00,623.28 78.50,623.01 79.00,622.98 79.50,623.12 80.00,623.08 80.50,622.97 81.00,623.15 81.50,623.27 82.00,623.26 82.50,623.11 83.00,623.04 83.50,623.25 84.00,623.35 84.50,623.59 85.00,623.43 85.50,623.26 86.00,623.06 86.50,623.02 87.00,623.07 87.50,623.14 88.00,623.37 88.50,623.62 89.00,623.52 89.50,623.47 90.00,623.30 90.50,623.37 91.00,623.41 91.50,623.41 92.00,623.33 92.50,623.26 93.00,623.31 93.50,623.39 94.00,623.25 94.50,623.44 95.00,623.64 95.50,623.79 96.00,623.41 96.50,623.07 97.00,623.01 97.50,623.11 98.00,623.14 98.50,622.90 99.00,622.57 99.50,622.75 100.00,622.78 100.50,622.67 101.00,622.92 101.50,623.16 102.00,623.28 102.50,623.41 103.00,623.46 103.50,623.33 104.00,623.17 104.50,623.06 105.00,623.15 105.50,623.25 106.00,623.36 106.50,623.24 107.00,623.45 107.50,623.48 108.00,623.47 108.50,623.50 109.00,623.49 109.50,623.46 110.00,623.35 110.50,623.20 111.00,623.01 111.50,622.72 112.00,622.04 112.50,621.56 113.00,621.52 113.50,621.36 114.00,622.38 114.50,623.47 115.00,623.41 115.50,623.39 116.00,623.52 116.50,623.51 117.00,623.45 117.50,623.47 118.00,623.39 118.50,623.38 119.00,623.35 119.50,623.25 120.00,623.13 120.50,623.01 121.00,623.21 121.50,623.44 122.00,623.26 122.50,622.93 123.00,622.97 123.50,623.28 124.00,623.31 124.50,623.39 125.00,623.35 125.50,622.89 126.00,622.33 126.50,622.64 127.00,623.11 127.50,623.29 128.00,623.46 128.50,623.44 129.00,623.38 129.50,623.59 130.00,623.91 130.50,623.73 131.00,623.39 131.50,623.31 132.00,623.40 132.50,623.46 133.00,623.68 133.50,623.41 134.00,623.40 134.50,623.48 135.00,623.61 135.50,623.65 136.00,623.51 136.50,623.46 137.00,623.47 137.50,623.10 138.00,622.31 138.50,621.68 139.00,622.47 139.50,623.30 140.00,623.50 140.50,623.55 141.00,623.44 141.50,623.39 142.00,622.92 142.50,622.64 143.00,622.98 143.50,623.27 144.00,623.07 144.50,623.01 145.00,623.25 145.50,623.28 146.00,623.22 146.50,623.11 147.00,622.97 147.50,622.96 148.00,623.32 148.50,623.59 149.00,623.40 149.50,623.38 150.00,623.29 150.50,623.03 151.00,622.97 151.50,623.10 152.00,623.07 152.50,623.09 153.00,623.02 153.50,622.49 154.00,621.68 154.50,621.90 155.00,622.66 155.50,623.13 156.00,623.39 156.50,623.30 157.00,623.16 157.50,623.04 158.00,623.13 158.50,623.48 159.00,623.29 159.50,623.12 160.00,623.05 160.50,623.18 161.00,623.42 161.50,623.32 162.00,622.44 162.50,621.57 163.00,622.31 163.50,623.13 164.00,623.50 164.50,623.73 165.00,623.55 165.50,623.10 166.00,622.21 166.50,621.83 167.00,622.65 167.50,623.25 168.00,623.19 168.50,623.13 169.00,623.15 169.50,623.23 170.00,623.35 170.50,623.23 171.00,623.38 171.50,623.70 172.00,623.50 172.50,623.22 173.00,623.36 173.50,623.43 174.00,623.33 174.50,623.13 175.00,622.50 175.50,622.01 176.00,622.74 176.50,623.46 177.00,623.43 177.50,623.26 178.00,622.99 178.50,622.84 179.00,622.98 179.50,622.97 180.00,622.88 180.50,622.98 181.00,623.19 181.50,623.44 182.00,623.50 182.50,623.50 183.00,623.35 183.50,623.11 184.00,623.13 184.50,623.41 185.00,623.62 185.50,623.34 186.00,623.28 186.50,623.46 187.00,623.40 187.50,623.33 188.00,623.40 188.50,623.71 189.00,623.60 189.50,623.30 190.00,623.47 190.50,623.56 191.00,623.44 191.50,623.22 192.00,623.08 192.50,623.15 193.00,623.13 193.50,623.20 194.00,623.24 194.50,623.00 195.00,623.04 195.50,623.30 196.00,623.46 196.50,623.65 197.00,623.70 197.50,623.42 198.00,623.38 198.50,623.76 199.00,623.46 199.50,622.90 200.00,622.94 200.50,623.36 201.00,623.37 201.50,623.19 202.00,623.37 202.50,623.43 203.00,623.40 203.50,623.24 204.00,623.08 204.50,623.04 205.00,623.43 205.50,623.63 206.00,623.38 206.50,623.09 207.00,622.68 207.50,622.00 208.00,621.47 208.50,620.37 209.00,618.66 209.50,617.01 210.00,615.93 210.50,615.48 211.00,615.93 211.50,616.87 212.00,618.03 212.50,619.40 213.00,620.74 213.50,621.74 214.00,622.40 214.50,622.79 215.00,622.64 215.50,622.36 216.00,622.54 216.50,622.36 217.00,621.42 217.50,619.81 218.00,617.99 218.50,616.55 219.00,615.54 219.50,615.47 220.00,615.95 220.50,616.87 221.00,618.03 221.50,619.38 222.00,620.81 222.50,621.90 223.00,622.61 223.50,622.96 224.00,622.91 224.50,622.75 225.00,622.52 225.50,621.95 226.00,620.71 226.50,618.82 227.00,616.66 227.50,614.80 228.00,613.87 228.50,614.56 229.00,616.15 229.50,617.65 230.00,619.14 230.50,620.23 231.00,620.94 231.50,622.04 232.00,622.97 232.50,623.20 233.00,623.09 233.50,622.80 234.00,622.43 234.50,622.07 235.00,620.72 235.50,618.95 236.00,617.09 236.50,615.30 237.00,613.88 237.50,613.20 238.00,613.33 238.50,614.67 239.00,616.51 239.50,618.38 240.00,620.33 240.50,621.60 241.00,622.30 241.50,622.77 242.00,622.95 242.50,623.00 243.00,623.08 243.50,623.18 244.00,622.89 244.50,622.22 245.00,621.80 245.50,621.60 246.00,621.32 246.50,621.05 247.00,621.35 247.50,621.73 248.00,622.00 248.50,622.52 249.00,622.82 249.50,622.96 250.00,623.02 250.50,622.64 251.00,621.96 251.50,620.96 252.00,619.44 252.50,617.41 253.00,615.52 253.50,613.90 254.00,612.93 254.50,613.25 255.00,614.52 255.50,616.13 256.00,618.43 256.50,620.34 257.00,621.43 257.50,622.15 258.00,622.29 258.50,622.11 259.00,621.66 259.50,620.78 260.00,619.23 260.50,617.15 261.00,614.62 261.50,612.56 262.00,611.39 262.50,611.36 263.00,612.55 263.50,614.55 264.00,616.91 264.50,619.23 265.00,621.08 265.50,622.14 266.00,622.45 266.50,622.80 267.00,623.16 267.50,623.22 268.00,622.90 268.50,622.64 269.00,622.17 269.50,621.68 270.00,621.26 270.50,621.12 271.00,620.69 271.50,620.38 272.00,621.08 272.50,621.89 273.00,622.51 273.50,622.83 274.00,622.79 274.50,622.66 275.00,622.11 275.50,621.24 276.00,619.43 276.50,616.70 277.00,613.71 277.50,610.55 278.00,608.25 278.50,607.40 279.00,608.51 279.50,610.76 280.00,613.60 280.50,616.78 281.00,619.36 281.50,621.11 282.00,621.94 282.50,622.38 283.00,622.33 283.50,621.56 284.00,620.31 284.50,618.58 285.00,616.73 285.50,614.77 286.00,613.95 286.50,614.50 287.00,615.48 287.50,617.13 288.00,618.99 288.50,620.49 289.00,621.49 289.50,622.30 290.00,622.41 290.50,622.32 291.00,621.56 291.50,620.56 292.00,619.39 292.50,618.08 293.00,616.88 293.50,616.16 294.00,616.38 294.50,617.59 295.00,618.82 295.50,620.16 296.00,621.38 296.50,622.09 297.00,622.43 297.50,622.44 298.00,621.88 298.50,620.90 299.00,619.78 299.50,618.62 300.00,617.78 300.50,617.26 301.00,617.38 301.50,618.15 302.00,619.12 302.50,619.64 303.00,620.11 303.50,621.49 304.00,622.57 304.50,622.82 305.00,622.69 305.50,622.21 306.00,622.01 306.50,621.55 307.00,620.98 307.50,620.84 308.00,621.20 308.50,621.80 309.00,622.35 309.50,622.59 310.00,622.91 310.50,623.15 311.00,622.91 311.50,622.42 312.00,621.99 312.50,621.47 313.00,620.85 313.50,620.38 314.00,620.18 314.50,620.28 315.00,620.62 315.50,621.22 316.00,621.87 316.50,622.23 317.00,622.23 317.50,622.29 318.00,622.21 318.50,621.95 319.00,621.51 319.50,621.06 320.00,620.53 320.50,620.01 321.00,620.11 321.50,620.95 322.00,621.62 322.50,622.19 323.00,622.73 323.50,623.04 324.00,623.26 324.50,623.40 325.00,623.40 325.50,623.43 326.00,623.13 326.50,623.12 327.00,623.37 327.50,623.43 328.00,622.92 328.50,622.23 329.00,622.30 329.50,622.58 330.00,622.24 330.50,621.97 331.00,622.46 331.50,622.96 332.00,623.12 332.50,623.20 333.00,623.30 333.50,623.35 334.00,623.30 334.50,623.25" fill="none" stroke="#ee1c1c" stroke-width="1.4" stroke-linejoin="round"/>
<polyline points="24.50,565.45 25.00,565.52 25.50,565.73 26.00,566.10 26.50,565.75 27.00,566.01 27.50,565.48 28.00,565.37 28.50,565.33 29.00,565.35 29.50,565.52 30.00,565.72 30.50,565.61 31.00,565.31 31.50,565.66 32.00,565.72 32.50,565.81 33.00,565.78 33.50,565.68 34.00,565.58 34.50,565.67 35.00,565.73 35.50,565.76 36.00,565.69 36.50,565.90 37.00,565.59 37.50,565.35 38.00,565.70 38.50,565.49 39.00,565.02 39.50,565.76 40.00,566.04 40.50,565.69 41.00,565.10 41.50,565.11 42.00,565.73 42.50,565.54 43.00,565.60 43.50,565.84 44.00,566.02 44.50,565.53 45.00,565.72 45.50,565.57 46.00,565.46 46.50,565.11 47.00,565.29 47.50,565.81 48.00,565.67 48.50,565.46 49.00,565.87 49.50,565.75 50.00,565.66 50.50,566.02 51.00,566.07 51.50,566.04 52.00,565.66 52.50,565.65 53.00,565.27 53.50,564.82 54.00,564.36 54.50,564.87 55.00,565.29 55.50,565.62 56.00,565.76 56.50,565.32 57.00,565.03 57.50,564.36 58.00,564.42 58.50,565.14 59.00,566.03 59.50,566.62 60.00,566.09 60.50,565.62 61.00,565.92 61.50,566.20 62.00,565.64 62.50,565.72 63.00,565.74 63.50,565.73 64.00,565.63 64.50,565.60 65.00,565.98 65.50,565.78 66.00,565.67 66.50,565.43 67.00,565.68 67.50,565.25 68.00,565.28 68.50,565.24 69.00,565.61 69.50,565.26 70.00,564.78 70.50,564.65 71.00,564.99 71.50,565.60 72.00,565.87 72.50,565.91 73.00,566.00 73.50,565.77 74.00,565.60 74.50,565.84 75.00,565.94 75.50,565.47 76.00,565.62 76.50,565.63 77.00,565.67 77.50,565.52 78.00,564.70 78.50,564.33 79.00,564.88 79.50,565.83 80.00,566.06 80.50,565.67 81.00,565.18 81.50,565.34 82.00,565.13 82.50,565.36 83.00,565.50 83.50,565.71 84.00,565.54 84.50,565.13 85.00,565.27 85.50,565.70 86.00,565.67 86.50,565.35 87.00,565.59 87.50,565.47 88.00,565.72 88.50,565.42 89.00,565.17 89.50,565.31 90.00,565.49 90.50,565.56 91.00,565.61 91.50,565.54 92.00,565.27 92.50,565.25 93.00,565.51 93.50,565.89 94.00,565.77 94.50,565.54 95.00,565.35 95.50,564.53 96.00,563.19 96.50,563.71 97.00,565.43 97.50,565.54 98.00,565.25 98.50,565.63 99.00,565.70 99.50,565.55 100.00,565.48 100.50,565.61 101.00,565.51 101.50,565.94 102.00,565.54 102.50,565.49 103.00,565.59 103.50,565.52 104.00,565.48 104.50,565.19 105.00,565.05 105.50,564.74 106.00,565.18 106.50,564.84 107.00,564.19 107.50,565.04 108.00,565.73 108.50,565.82 109.00,565.17 109.50,564.55 110.00,564.88 110.50,565.86 111.00,565.68 111.50,565.20 112.00,564.55 112.50,564.27 113.00,565.26 113.50,565.63 114.00,565.44 114.50,565.34 115.00,565.47 115.50,565.51 116.00,565.57 116.50,565.75 117.00,565.56 117.50,565.43 118.00,565.57 118.50,565.51 119.00,566.19 119.50,565.74 120.00,565.19 120.50,565.23 121.00,565.22 121.50,565.55 122.00,565.89 122.50,565.70 123.00,565.39 123.50,565.99 124.00,566.01 124.50,566.07 125.00,565.84 125.50,565.69 126.00,565.54 126.50,565.66 127.00,565.22 127.50,565.39 128.00,565.73 128.50,565.91 129.00,565.75 129.50,564.47 130.00,563.38 130.50,564.51 131.00,565.60 131.50,565.68 132.00,565.77 132.50,565.94 133.00,566.08 133.50,565.63 134.00,565.20 134.50,565.18 135.00,565.29 135.50,565.47 136.00,565.42 136.50,565.35 137.00,565.54 137.50,565.56 138.00,565.61 138.50,565.42 139.00,565.70 139.50,565.45 140.00,565.32 140.50,565.32 141.00,565.41 141.50,565.69 142.00,565.77 142.50,565.74 143.00,565.77 143.50,565.90 144.00,565.80 144.50,565.82 145.00,565.83 145.50,565.61 146.00,565.73 146.50,565.50 147.00,565.15 147.50,565.13 148.00,565.44 148.50,565.34 149.00,565.34 149.50,564.94 150.00,565.02 150.50,565.26 151.00,565.58 151.50,565.63 152.00,565.49 152.50,565.58 153.00,565.61 153.50,565.52 154.00,565.95 154.50,566.18 155.00,566.00 155.50,565.92 156.00,565.73 156.50,565.81 157.00,565.80 157.50,565.98 158.00,565.35 158.50,565.47 159.00,565.75 159.50,565.50 160.00,565.25 160.50,565.34 161.00,565.53 161.50,565.41 162.00,565.43 162.50,565.90 163.00,566.02 163.50,565.76 164.00,565.32 164.50,565.20 165.00,565.39 165.50,565.19 166.00,565.27 166.50,565.42 167.00,565.02 167.50,564.49 168.00,564.75 168.50,565.05 169.00,565.39 169.50,565.91 170.00,565.90 170.50,565.47 171.00,565.56 171.50,565.76 172.00,565.42 172.50,565.20 173.00,565.33 173.50,565.45 174.00,565.31 174.50,565.64 175.00,565.79 175.50,565.53 176.00,564.07 176.50,562.69 177.00,563.01 177.50,564.26 178.00,565.17 178.50,565.27 179.00,565.23 179.50,565.37 180.00,565.58 180.50,565.49 181.00,564.72 181.50,564.14 182.00,564.51 182.50,565.25 183.00,564.47 183.50,563.78 184.00,564.70 184.50,565.33 185.00,564.82 185.50,564.47 186.00,565.14 186.50,565.47 187.00,564.74 187.50,564.25 188.00,564.49 188.50,564.10 189.00,563.26 189.50,564.08 190.00,564.75 190.50,565.57 191.00,565.68 191.50,565.26 192.00,565.56 192.50,565.75 193.00,565.67 193.50,566.07 194.00,565.62 194.50,565.55 195.00,565.58 195.50,565.69 196.00,565.32 196.50,565.44 197.00,565.41 197.50,564.71 198.00,563.57 198.50,563.10 199.00,564.61 199.50,565.62 200.00,565.56 200.50,565.51 201.00,565.46 201.50,565.71 202.00,565.70 202.50,565.74 203.00,565.53 203.50,565.35 204.00,565.28 204.50,565.44 205.00,565.59 205.50,565.04 206.00,564.87 206.50,565.28 207.00,565.04 207.50,564.49 208.00,563.44 208.50,562.19 209.00,560.98 209.50,559.24 210.00,557.60 210.50,556.80 211.00,557.02 211.50,558.39 212.00,559.79 212.50,561.01 213.00,561.65 213.50,562.66 214.00,563.63 214.50,565.07 215.00,565.62 215.50,565.17 216.00,565.31 216.50,564.85 217.00,563.56 217.50,562.24 218.00,561.03 218.50,559.87 219.00,558.91 219.50,558.30 220.00,559.08 220.50,559.90 221.00,560.49 221.50,560.93 222.00,561.31 222.50,563.21 223.00,564.99 223.50,565.34 224.00,565.67 224.50,564.99 225.00,564.32 225.50,563.75 226.00,561.79 226.50,559.08 227.00,556.17 227.50,554.52 228.00,553.18 228.50,553.70 229.00,555.90 229.50,557.77 230.00,559.97 230.50,562.07 231.00,563.15 231.50,564.13 232.00,564.07 232.50,563.68 233.00,564.43 233.50,564.36 234.00,564.74 234.50,564.13 235.00,562.22 235.50,559.73 236.00,557.12 236.50,554.80 237.00,552.79 237.50,551.98 238.00,552.45 238.50,554.18 239.00,556.90 239.50,559.28 240.00,561.69 240.50,563.36 241.00,564.65 241.50,564.97 242.00,565.13 242.50,564.89 243.00,565.24 243.50,564.92 244.00,564.72 244.50,564.08 245.00,563.10 245.50,562.20 246.00,563.16 246.50,563.71 247.00,563.51 247.50,563.81 248.00,564.21 248.50,564.74 249.00,564.92 249.50,565.25 250.00,565.13 250.50,564.51 251.00,563.82 251.50,562.83 252.00,560.61 252.50,557.18 253.00,553.83 253.50,552.38 254.00,552.14 254.50,552.32 255.00,554.10 255.50,556.43 256.00,558.56 256.50,560.71 257.00,562.55 257.50,564.04 258.00,564.73 258.50,564.33 259.00,563.42 259.50,562.24 260.00,560.21 260.50,557.52 261.00,554.12 261.50,550.67 262.00,549.47 262.50,549.32 263.00,550.30 263.50,552.66 264.00,556.62 264.50,559.84 265.00,562.22 265.50,563.91 266.00,564.96 266.50,565.44 267.00,565.78 267.50,565.30 268.00,565.28 268.50,565.16 269.00,564.50 269.50,563.93 270.00,563.60 270.50,563.38 271.00,563.40 271.50,563.97 272.00,564.27 272.50,564.70 273.00,565.25 273.50,564.86 274.00,564.33 274.50,563.47 275.00,563.51 275.50,563.26 276.00,561.32 276.50,558.71 277.00,556.02 277.50,553.54 278.00,550.65 278.50,550.01 279.00,551.06 279.50,553.36 280.00,556.42 280.50,559.24 281.00,561.57 281.50,563.56 282.00,564.38 282.50,564.78 283.00,564.49 283.50,563.63 284.00,562.08 284.50,560.12 285.00,558.29 285.50,556.41 286.00,555.42 286.50,555.97 287.00,556.75 287.50,558.61 288.00,560.55 288.50,562.12 289.00,563.66 289.50,564.48 290.00,564.30 290.50,563.97 291.00,563.17 291.50,561.56 292.00,560.66 292.50,559.21 293.00,557.46 293.50,556.24 294.00,555.52 294.50,556.20 295.00,557.09 295.50,559.17 296.00,562.27 296.50,564.29 297.00,564.56 297.50,564.00 298.00,563.06 298.50,561.00 299.00,558.69 299.50,557.68 300.00,557.23 300.50,556.92 301.00,556.75 301.50,556.76 302.00,557.71 302.50,560.34 303.00,562.97 303.50,564.00 304.00,564.47 304.50,564.69 305.00,565.11 305.50,564.80 306.00,564.22 306.50,563.87 307.00,563.75 307.50,563.55 308.00,563.76 308.50,563.91 309.00,564.54 309.50,564.96 310.00,565.57 310.50,565.34 311.00,565.28 311.50,564.85 312.00,564.49 312.50,563.79 313.00,563.57 313.50,563.27 314.00,562.63 314.50,562.55 315.00,563.17 315.50,563.77 316.00,563.89 316.50,564.22 317.00,564.62 317.50,564.87 318.00,564.68 318.50,563.98 319.00,563.64 319.50,563.51 320.00,563.08 320.50,562.49 321.00,562.53 321.50,563.22 322.00,563.78 322.50,564.07 323.00,564.71 323.50,565.00 324.00,565.59 324.50,565.63 325.00,564.95 325.50,563.97 326.00,564.50 326.50,564.66 327.00,563.60 327.50,563.33 328.00,563.18 328.50,563.90 329.00,564.98 329.50,565.43 330.00,565.69 330.50,565.62 331.00,564.48 331.50,563.38 332.00,563.81 332.50,564.83 333.00,564.40 333.50,563.27 334.00,562.10 334.50,561.36" fill="none" stroke="#1f78c8" stroke-width="1.4" stroke-linejoin="round"/>
<polyline points="24.50,508.58 25.20,508.68 25.90,508.76 26.60,506.17 27.30,505.48 28.00,503.95 28.70,507.22 29.40,508.00 30.10,507.51 30.80,508.42 31.50,508.60 32.20,507.52 32.90,508.56 33.60,507.71 34.30,507.43 35.00,508.66 35.70,508.69 36.40,508.35 37.10,507.83 37.80,507.63 38.50,504.62 39.20,503.47 39.90,506.81 40.60,508.73 41.30,508.73 42.00,508.30 42.70,506.76 43.40,505.37 44.10,499.82 44.80,504.60 45.50,505.77 46.20,504.48 46.90,501.91 47.60,501.96 48.30,508.92 49.00,507.73 49.70,508.75 50.40,508.49 51.10,506.04 51.80,503.63 52.50,506.28 53.20,508.12 53.90,508.92 54.60,503.34 55.30,507.41 56.00,506.20 56.70,504.61 57.40,505.61 58.10,506.22 58.80,504.72 59.50,506.12 60.20,507.85 60.90,507.19 61.60,505.76 62.30,507.71 63.00,505.09 63.70,508.44 64.40,507.87 65.10,506.27 65.80,504.86 66.50,506.05 67.20,506.16 67.90,507.95 68.60,508.36 69.30,507.94 70.00,505.56 70.70,506.93 71.40,507.20 72.10,505.09 72.80,504.32 73.50,507.37 74.20,506.06 74.90,504.62 75.60,506.17 76.30,506.52 77.00,507.53 77.70,508.52 78.40,507.79 79.10,507.13 79.80,503.35 80.50,504.23 81.20,504.12 81.90,507.00 82.60,510.45 83.30,507.93 84.00,508.53 84.70,507.89 85.40,507.70 86.10,509.13 86.80,508.64 87.50,508.12 88.20,507.93 88.90,507.91 89.60,505.77 90.30,508.08 91.00,508.72 91.70,508.17 92.40,507.55 93.10,503.76 93.80,507.30 94.50,507.87 95.20,508.70 95.90,508.63 96.60,507.66 97.30,505.62 98.00,505.78 98.70,508.13 99.40,506.85 100.10,505.34 100.80,507.36 101.50,506.75 102.20,507.46 102.90,508.30 103.60,506.95 104.30,504.76 105.00,506.72 105.70,508.98 106.40,507.96 107.10,507.03 107.80,507.35 108.50,507.97 109.20,509.32 109.90,508.99 110.60,508.21 111.30,507.54 112.00,504.74 112.70,507.35 113.40,507.44 114.10,506.42 114.80,507.73 115.50,508.49 116.20,507.36 116.90,505.43 117.60,505.46 118.30,501.97 119.00,504.22 119.70,506.80 120.40,508.15 121.10,508.70 121.80,508.14 122.50,504.80 123.20,507.01 123.90,503.89 124.60,504.98 125.30,507.71 126.00,506.95 126.70,507.89 127.40,508.64 128.10,508.42 128.80,507.78 129.50,505.54 130.20,507.07 130.90,508.70 131.60,507.06 132.30,505.12 133.00,507.47 133.70,508.05 134.40,506.65 135.10,508.19 135.80,507.83 136.50,507.10 137.20,508.49 137.90,508.47 138.60,508.96 139.30,509.05 140.00,508.35 140.70,508.46 141.40,509.00 142.10,505.91 142.80,504.87 143.50,507.54 144.20,508.67 144.90,508.81 145.60,508.25 146.30,509.21 147.00,508.51 147.70,508.09 148.40,508.77 149.10,508.80 149.80,505.95 150.50,507.79 151.20,509.12 151.90,508.69 152.60,508.51 153.30,508.38 154.00,508.72 154.70,508.04 155.40,508.65 156.10,508.26 156.80,508.13 157.50,504.86 158.20,505.65 158.90,505.09 159.60,506.99 160.30,509.30 161.00,508.22 161.70,508.91 162.40,507.67 163.10,508.68 163.80,508.80 164.50,508.88 165.20,508.05 165.90,508.59 166.60,508.93 167.30,507.98 168.00,507.47 168.70,507.46 169.40,508.51 170.10,507.23 170.80,508.47 171.50,507.54 172.20,508.03 172.90,506.44 173.60,507.09 174.30,508.80 175.00,507.25 175.70,503.87 176.40,504.53 177.10,506.83 177.80,507.44 178.50,508.95 179.20,508.74 179.90,507.15 180.60,507.95 181.30,507.94 182.00,505.60 182.70,506.67 183.40,503.08 184.10,504.64 184.80,505.45 185.50,506.54 186.20,504.62 186.90,508.41 187.60,506.85 188.30,503.87 189.00,504.03 189.70,508.27 190.40,506.53 191.10,505.23 191.80,505.04 192.50,508.67 193.20,505.45 193.90,505.38 194.60,507.67 195.30,508.26 196.00,509.12 196.70,508.40 197.40,507.98 198.10,508.92 198.80,508.50 199.50,508.53 200.20,508.47 200.90,508.98 201.60,508.73 202.30,508.79 203.00,508.24 203.70,508.46 204.40,507.68 205.10,509.13 205.80,507.59 206.50,508.36 207.20,507.86 207.90,505.55 208.60,502.98 209.30,499.56 210.00,494.96 210.70,493.07 211.40,497.00 212.10,498.08 212.80,502.36 213.50,506.18 214.20,508.19 214.90,508.04 215.60,507.58 216.30,505.38 217.00,503.81 217.70,498.54 218.40,499.54 219.10,498.98 219.80,499.04 220.50,499.16 221.20,497.99 221.90,504.56 222.60,507.28 223.30,507.20 224.00,508.00 224.70,507.81 225.40,504.18 226.10,503.25 226.80,497.84 227.50,495.27 228.20,493.44 228.90,494.36 229.60,497.19 230.30,500.46 231.00,501.13 231.70,505.93 232.40,507.74 233.10,506.77 233.80,503.82 234.50,504.67 235.20,501.91 235.90,496.07 236.60,493.24 237.30,490.74 238.00,490.46 238.70,490.76 239.40,495.17 240.10,502.36 240.80,504.80 241.50,504.78 242.20,505.35 242.90,507.28 243.60,506.86 244.30,506.48 245.00,506.77 245.70,505.18 246.40,502.68 247.10,504.63 247.80,504.82 248.50,500.89 249.20,506.47 249.90,504.82 250.60,506.03 251.30,502.22 252.00,500.60 252.70,501.40 253.40,496.78 254.10,496.29 254.80,496.70 255.50,499.06 256.20,502.43 256.90,505.14 257.60,505.66 258.30,506.24 259.00,507.02 259.70,502.60 260.40,498.47 261.10,489.83 261.80,486.35 262.50,485.84 263.20,490.70 263.90,495.35 264.60,501.21 265.30,503.28 266.00,506.78 266.70,506.66 267.40,503.93 268.10,506.04 268.80,505.56 269.50,506.63 270.20,504.72 270.90,502.74 271.60,502.81 272.30,505.77 273.00,506.14 273.70,504.48 274.40,503.93 275.10,504.89 275.80,503.06 276.50,500.97 277.20,495.91 277.90,489.96 278.60,487.21 279.30,489.56 280.00,494.77 280.70,501.31 281.40,507.17 282.10,506.77 282.80,507.06 283.50,504.89 284.20,503.59 284.90,498.34 285.60,493.91 286.30,490.38 287.00,491.13 287.70,497.49 288.40,502.05 289.10,504.10 289.80,504.52 290.50,501.61 291.20,502.70 291.90,497.50 292.60,498.56 293.30,494.39 294.00,496.83 294.70,499.55 295.40,502.55 296.10,504.24 296.80,506.27 297.50,505.58 298.20,504.84 298.90,499.57 299.60,500.58 300.30,500.75 301.00,500.88 301.70,502.16 302.40,504.51 303.10,505.60 303.80,507.11 304.50,507.42 305.20,506.00 305.90,502.32 306.60,501.35 307.30,501.67 308.00,501.28 308.70,502.40 309.40,504.99 310.10,506.80 310.80,508.06 311.50,507.67 312.20,506.28 312.90,504.32 313.60,503.18 314.30,502.22 315.00,504.57 315.70,505.73 316.40,503.19 317.10,508.01 317.80,506.81 318.50,505.99 319.20,505.81 319.90,502.03 320.60,502.80 321.30,503.24 322.00,503.58 322.70,506.40 323.40,505.87 324.10,506.68 324.80,508.94 325.50,508.10 326.20,508.85 326.90,508.49 327.60,507.66 328.30,507.37 329.00,508.36 329.70,506.89 330.40,507.68 331.10,506.31 331.80,508.02 332.50,507.92 333.20,507.60 333.90,507.12 334.60,506.70" fill="none" stroke="#5e4a92" stroke-width="1.3" stroke-linejoin="round"/>
<polyline points="24.50,446.86 25.20,446.19 25.90,449.02 26.60,445.28 27.30,446.03 28.00,448.07 28.70,448.47 29.40,447.74 30.10,447.97 30.80,446.87 31.50,446.98 32.20,446.14 32.90,445.26 33.60,444.61 34.30,444.71 35.00,446.26 35.70,445.54 36.40,446.75 37.10,447.81 37.80,445.62 38.50,446.31 39.20,445.96 39.90,443.99 40.60,445.12 41.30,447.54 42.00,447.10 42.70,446.92 43.40,446.31 44.10,447.67 44.80,447.18 45.50,445.13 46.20,444.86 46.90,447.32 47.60,446.18 48.30,447.17 49.00,446.52 49.70,447.31 50.40,446.87 51.10,441.87 51.80,444.05 52.50,446.43 53.20,446.69 53.90,446.97 54.60,446.84 55.30,448.55 56.00,446.49 56.70,449.08 57.40,447.66 58.10,447.58 58.80,447.98 59.50,447.92 60.20,444.59 60.90,445.57 61.60,447.71 62.30,444.57 63.00,447.18 63.70,444.80 64.40,445.50 65.10,447.57 65.80,446.92 66.50,445.07 67.20,446.76 67.90,447.76 68.60,447.70 69.30,445.50 70.00,446.46 70.70,447.78 71.40,447.69 72.10,447.54 72.80,446.97 73.50,447.73 74.20,447.42 74.90,447.04 75.60,446.96 76.30,447.16 77.00,446.85 77.70,444.97 78.40,445.96 79.10,447.86 79.80,446.77 80.50,443.94 81.20,446.68 81.90,446.26 82.60,446.50 83.30,445.55 84.00,444.30 84.70,445.58 85.40,445.15 86.10,442.78 86.80,444.48 87.50,446.72 88.20,446.58 88.90,447.57 89.60,447.21 90.30,446.95 91.00,447.46 91.70,448.23 92.40,447.57 93.10,444.78 93.80,444.89 94.50,445.20 95.20,445.87 95.90,447.10 96.60,446.63 97.30,447.94 98.00,448.40 98.70,444.83 99.40,446.57 100.10,446.83 100.80,446.47 101.50,447.38 102.20,447.97 102.90,446.83 103.60,446.58 104.30,446.76 105.00,442.62 105.70,443.28 106.40,447.32 107.10,446.41 107.80,447.27 108.50,447.59 109.20,445.47 109.90,448.24 110.60,447.21 111.30,444.45 112.00,445.15 112.70,445.38 113.40,443.50 114.10,446.56 114.80,448.31 115.50,448.25 116.20,447.60 116.90,447.82 117.60,447.64 118.30,448.67 119.00,447.08 119.70,447.15 120.40,446.86 121.10,444.27 121.80,447.34 122.50,445.18 123.20,445.45 123.90,448.02 124.60,447.10 125.30,445.99 126.00,445.22 126.70,448.14 127.40,447.54 128.10,445.45 128.80,446.80 129.50,445.18 130.20,442.99 130.90,445.76 131.60,446.27 132.30,447.30 133.00,447.50 133.70,446.53 134.40,448.26 135.10,446.84 135.80,447.17 136.50,446.34 137.20,446.59 137.90,446.14 138.60,447.79 139.30,445.44 140.00,443.46 140.70,445.94 141.40,445.34 142.10,447.14 142.80,447.75 143.50,445.39 144.20,445.70 144.90,446.34 145.60,447.37 146.30,447.48 147.00,446.02 147.70,447.78 148.40,446.71 149.10,447.76 149.80,445.16 150.50,445.82 151.20,443.68 151.90,445.84 152.60,445.83 153.30,447.11 154.00,448.19 154.70,445.62 155.40,443.70 156.10,444.04 156.80,445.77 157.50,444.49 158.20,445.32 158.90,446.05 159.60,447.72 160.30,444.48 161.00,446.29 161.70,445.88 162.40,447.04 163.10,446.38 163.80,447.14 164.50,447.29 165.20,446.64 165.90,447.25 166.60,447.86 167.30,446.29 168.00,446.96 168.70,447.55 169.40,447.25 170.10,445.26 170.80,447.70 171.50,447.76 172.20,447.80 172.90,447.70 173.60,447.72 174.30,448.30 175.00,447.18 175.70,445.66 176.40,445.25 177.10,446.83 177.80,447.63 178.50,446.81 179.20,445.94 179.90,444.17 180.60,444.87 181.30,447.59 182.00,448.40 182.70,446.96 183.40,443.75 184.10,447.35 184.80,447.97 185.50,446.60 186.20,448.22 186.90,446.35 187.60,445.86 188.30,447.50 189.00,446.33 189.70,445.01 190.40,447.37 191.10,447.18 191.80,444.11 192.50,446.71 193.20,445.23 193.90,441.50 194.60,442.34 195.30,445.82 196.00,446.08 196.70,443.98 197.40,446.24 198.10,447.58 198.80,446.73 199.50,446.31 200.20,445.30 200.90,442.49 201.60,445.75 202.30,446.16 203.00,445.77 203.70,445.59 204.40,447.69 205.10,447.57 205.80,446.78 206.50,446.32 207.20,445.81 207.90,438.68 208.60,440.32 209.30,436.71 210.00,433.90 210.70,435.46 211.40,435.59 212.10,437.13 212.80,440.07 213.50,442.46 214.20,445.25 214.90,445.47 215.60,446.87 216.30,443.91 217.00,442.38 217.70,439.93 218.40,435.98 219.10,432.31 219.80,435.40 220.50,440.03 221.20,442.41 221.90,445.89 222.60,446.18 223.30,445.05 224.00,447.23 224.70,445.81 225.40,443.07 226.10,438.93 226.80,437.28 227.50,432.74 228.20,431.78 228.90,431.37 229.60,434.54 230.30,439.83 231.00,437.78 231.70,441.22 232.40,443.04 233.10,445.92 233.80,446.90 234.50,444.21 235.20,441.61 235.90,435.15 236.60,431.15 237.30,429.44 238.00,429.53 238.70,431.01 239.40,436.77 240.10,440.68 240.80,443.78 241.50,446.84 242.20,443.86 242.90,445.59 243.60,448.21 244.30,446.70 245.00,443.89 245.70,445.17 246.40,441.67 247.10,442.24 247.80,443.53 248.50,445.54 249.20,446.55 249.90,445.46 250.60,446.63 251.30,443.35 252.00,439.88 252.70,437.06 253.40,434.53 254.10,429.68 254.80,428.78 255.50,432.84 256.20,438.75 256.90,442.53 257.60,442.39 258.30,444.12 259.00,444.28 259.70,442.00 260.40,438.98 261.10,432.59 261.80,427.78 262.50,426.27 263.20,430.28 263.90,435.26 264.60,438.50 265.30,442.51 266.00,442.53 266.70,443.37 267.40,446.52 268.10,446.64 268.80,445.95 269.50,444.46 270.20,441.81 270.90,444.52 271.60,444.91 272.30,445.31 273.00,445.33 273.70,445.45 274.40,446.12 275.10,443.70 275.80,442.74 276.50,435.34 277.20,428.70 277.90,424.83 278.60,422.32 279.30,426.72 280.00,430.30 280.70,438.84 281.40,443.13 282.10,445.80 282.80,446.04 283.50,445.76 284.20,442.45 284.90,437.49 285.60,435.45 286.30,435.24 287.00,435.95 287.70,437.98 288.40,441.74 289.10,444.56 289.80,446.10 290.50,445.23 291.20,442.92 291.90,439.99 292.60,437.17 293.30,433.32 294.00,436.18 294.70,438.07 295.40,440.89 296.10,444.74 296.80,442.35 297.50,439.04 298.20,441.15 298.90,436.23 299.60,434.89 300.30,434.15 301.00,432.70 301.70,436.70 302.40,441.34 303.10,440.78 303.80,442.43 304.50,441.73 305.20,442.30 305.90,443.11 306.60,443.54 307.30,442.05 308.00,442.84 308.70,441.61 309.40,444.30 310.10,448.39 310.80,445.76 311.50,444.09 312.20,445.10 312.90,444.26 313.60,444.29 314.30,443.02 315.00,441.68 315.70,440.69 316.40,441.31 317.10,444.26 317.80,445.84 318.50,446.44 319.20,443.19 319.90,442.28 320.60,439.65 321.30,441.70 322.00,442.42 322.70,446.60 323.40,445.47 324.10,448.10 324.80,447.98 325.50,447.00 326.20,445.50 326.90,446.11 327.60,448.11 328.30,447.37 329.00,447.91 329.70,449.09 330.40,447.39 331.10,446.16 331.80,445.56 332.50,447.29 333.20,446.78 333.90,446.45 334.60,446.19" fill="none" stroke="#6e9a3c" stroke-width="1.3" stroke-linejoin="round"/>
<rect x="24.5" y="393.8" width="310.3" height="293.0" fill="none" stroke="#6a6a6a" stroke-width="1.2"/>
<line x1="21.5" y1="686.8" x2="24.5" y2="686.8" stroke="#333" stroke-width="1"/>
<line x1="58.4" y1="686.8" x2="58.4" y2="693.0999999999999" stroke="#444" stroke-width="1"/>
<text x="58.4" y="707.4" font-family="Liberation Sans" font-size="16.6" font-weight="normal" text-anchor="middle" textLength="20.7" lengthAdjust="spacingAndGlyphs" fill="#1a1a1a" stroke="#1a1a1a" stroke-width="0.35">4000</text>
<line x1="96.4" y1="686.8" x2="96.4" y2="693.0999999999999" stroke="#444" stroke-width="1"/>
<text x="96.4" y="707.4" font-family="Liberation Sans" font-size="16.6" font-weight="normal" text-anchor="middle" textLength="20.7" lengthAdjust="spacingAndGlyphs" fill="#1a1a1a" stroke="#1a1a1a" stroke-width="0.35">3500</text>
<line x1="134.3" y1="686.8" x2="134.3" y2="693.0999999999999" stroke="#444" stroke-width="1"/>
<text x="134.3" y="707.4" font-family="Liberation Sans" font-size="16.6" font-weight="normal" text-anchor="middle" textLength="20.7" lengthAdjust="spacingAndGlyphs" fill="#1a1a1a" stroke="#1a1a1a" stroke-width="0.35">3000</text>
<line x1="172.3" y1="686.8" x2="172.3" y2="693.0999999999999" stroke="#444" stroke-width="1"/>
<text x="172.3" y="707.4" font-family="Liberation Sans" font-size="16.6" font-weight="normal" text-anchor="middle" textLength="20.7" lengthAdjust="spacingAndGlyphs" fill="#1a1a1a" stroke="#1a1a1a" stroke-width="0.35">2500</text>
<line x1="210.2" y1="686.8" x2="210.2" y2="693.0999999999999" stroke="#444" stroke-width="1"/>
<text x="210.2" y="707.4" font-family="Liberation Sans" font-size="16.6" font-weight="normal" text-anchor="middle" textLength="20.7" lengthAdjust="spacingAndGlyphs" fill="#1a1a1a" stroke="#1a1a1a" stroke-width="0.35">2000</text>
<line x1="248.2" y1="686.8" x2="248.2" y2="693.0999999999999" stroke="#444" stroke-width="1"/>
<text x="248.2" y="707.4" font-family="Liberation Sans" font-size="16.6" font-weight="normal" text-anchor="middle" textLength="20.7" lengthAdjust="spacingAndGlyphs" fill="#1a1a1a" stroke="#1a1a1a" stroke-width="0.35">1500</text>
<line x1="286.1" y1="686.8" x2="286.1" y2="693.0999999999999" stroke="#444" stroke-width="1"/>
<text x="286.1" y="707.4" font-family="Liberation Sans" font-size="16.6" font-weight="normal" text-anchor="middle" textLength="20.7" lengthAdjust="spacingAndGlyphs" fill="#1a1a1a" stroke="#1a1a1a" stroke-width="0.35">1000</text>
<line x1="324.1" y1="686.8" x2="324.1" y2="693.0999999999999" stroke="#444" stroke-width="1"/>
<text x="324.1" y="707.4" font-family="Liberation Sans" font-size="16.6" font-weight="normal" text-anchor="middle" textLength="15.524999999999999" lengthAdjust="spacingAndGlyphs" fill="#1a1a1a" stroke="#1a1a1a" stroke-width="0.35">500</text>
<ellipse cx="12.1" cy="685.1" rx="3.45" ry="3.3" fill="none" stroke="#111" stroke-width="1.3"/>
<text x="0" y="0" transform="translate(14.3,539.7) rotate(-90)" font-family="Liberation Sans" font-size="16.8" text-anchor="middle" textLength="134.8" lengthAdjust="spacingAndGlyphs" fill="#111" stroke="#111" stroke-width="0.35">Raman Intensity</text>
<text x="109.03" y="728.83" font-family="Liberation Sans" font-size="17.02" font-weight="normal" text-anchor="start" textLength="94.03" lengthAdjust="spacingAndGlyphs" fill="#111" stroke="#111" stroke-width="0.4">Wavenumber</text>
<text x="216.93" y="730.03" font-family="Liberation Sans" font-size="17.71" font-weight="normal" text-anchor="start" textLength="20.90" lengthAdjust="spacingAndGlyphs" fill="#111" stroke="#111" stroke-width="0.4">cm</text>
<rect x="242.2" y="720.70" width="3.20" height="1.2" fill="#111"/>
<text x="246.72" y="724.30" font-family="Liberation Sans" font-size="12.06" font-weight="normal" text-anchor="start" textLength="3.48" lengthAdjust="spacingAndGlyphs" fill="#111" stroke="#111" stroke-width="0.4">1</text>
<text x="48.07" y="439.60" font-family="Liberation Sans" font-size="17.88" font-weight="bold" text-anchor="start" textLength="10.07" lengthAdjust="spacingAndGlyphs" fill="#000" stroke="#000" stroke-width="0.2">N</text>
<text x="48.06" y="496.40" font-family="Liberation Sans" font-size="18.17" font-weight="bold" text-anchor="start" textLength="11.68" lengthAdjust="spacingAndGlyphs" fill="#000" stroke="#000" stroke-width="0.2">M</text>
<text x="48.22" y="551.50" font-family="Liberation Sans" font-size="18.46" font-weight="bold" text-anchor="start" textLength="8.93" lengthAdjust="spacingAndGlyphs" fill="#000" stroke="#000" stroke-width="0.2">L</text>
<text x="48.22" y="609.50" font-family="Liberation Sans" font-size="17.88" font-weight="bold" text-anchor="start" textLength="10.62" lengthAdjust="spacingAndGlyphs" fill="#000" stroke="#000" stroke-width="0.2">K</text>
<text x="49.45" y="662.80" font-family="Liberation Sans" font-size="17.30" font-weight="bold" text-anchor="start" textLength="9.51" lengthAdjust="spacingAndGlyphs" fill="#000" stroke="#000" stroke-width="0.2">E</text>
<text x="298.5" y="422.6" font-family="Liberation Serif" font-size="25.5" font-weight="normal" text-anchor="start" textLength="22.2" lengthAdjust="spacingAndGlyphs" fill="#000" stroke="#000" stroke-width="0.25">III</text>
</svg></body></html>
